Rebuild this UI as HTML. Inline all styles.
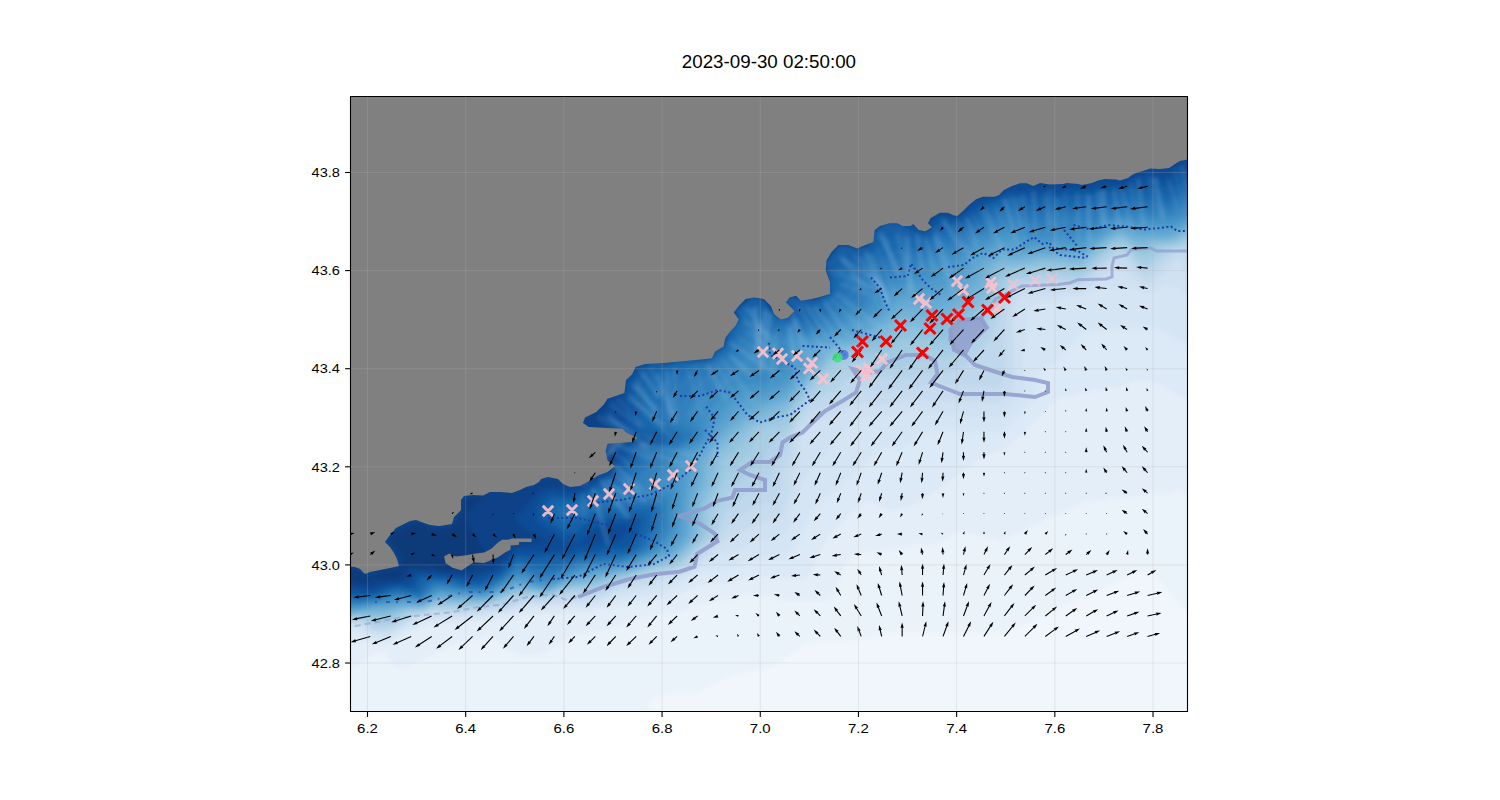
<!DOCTYPE html>
<html><head><meta charset="utf-8"><style>html,body{margin:0;padding:0;background:#fff;width:1500px;height:800px;overflow:hidden}svg{display:block}</style></head>
<body><svg width="1500" height="800" viewBox="0 0 1500 800">
<rect width="1500" height="800" fill="#fff"/>
<defs><filter id="fb" x="-5%" y="-5%" width="110%" height="110%"><feGaussianBlur stdDeviation="2.5"/></filter><filter id="fs" x="-50%" y="-50%" width="200%" height="200%"><feGaussianBlur stdDeviation="2.2"/></filter><clipPath id="ax"><rect x="350.0" y="96.0" width="837.5" height="616.0"/></clipPath></defs>
<g clip-path="url(#ax)"><g filter="url(#fb)"><path fill="#f0f6fc" fill-rule="evenodd" d="M344 90 344 717 1193 717 1193 90Z"/><path fill="#eaf2fa" fill-rule="evenodd" d="M344 90 344 717 674 717 653 711 647 705 653 699 668 693 695 693 725 678 773 666 809 642 854 642 857 639 884 636 887 633 1007 633 1142 570 1151 570 1178 603 1193 615 1193 90Z"/><path fill="#e3eef8" fill-rule="evenodd" d="M344 90 344 666 356 666 374 651 386 651 395 666 407 666 458 642 482 639 485 636 497 639 506 648 521 654 542 654 575 633 605 630 638 618 647 618 662 612 677 612 701 603 740 597 743 594 776 597 779 600 827 600 833 594 845 564 857 552 911 546 914 543 935 543 959 531 1001 540 1085 501 1148 495 1151 492 1172 492 1175 489 1193 495 1193 90Z"/><path fill="#dce9f6" fill-rule="evenodd" d="M344 90 344 642 374 642 383 645 428 624 464 624 467 621 494 621 497 618 515 618 518 615 593 612 596 609 626 606 629 603 650 603 653 600 668 600 698 585 734 582 749 576 803 579 809 576 827 537 854 510 869 501 890 510 917 504 980 459 998 450 1004 450 1061 396 1073 396 1076 393 1088 393 1091 390 1103 390 1106 387 1118 387 1136 381 1154 381 1187 399 1193 399 1193 90Z"/><path fill="#d5e5f4" fill-rule="evenodd" d="M344 633 353 630 374 639 389 639 419 621 485 618 488 615 506 615 524 609 599 606 626 597 662 594 704 570 734 567 755 558 782 558 794 549 815 507 845 483 875 453 887 447 896 447 899 450 926 432 938 432 941 429 956 429 959 432 998 432 1004 429 1034 399 1037 393 1037 375 1058 360 1082 333 1088 330 1157 327 1181 342 1193 345 1193 90 344 90Z"/><path fill="#cfe1f2" fill-rule="evenodd" d="M344 627 359 627 374 636 389 636 419 618 488 615 491 612 506 612 524 606 596 603 617 594 644 591 680 579 716 555 734 552 758 540 782 537 791 522 791 513 803 480 851 423 869 417 905 414 908 411 920 411 923 414 959 414 962 417 998 417 1004 414 1025 390 1022 354 1028 339 1028 309 1034 303 1061 300 1064 297 1082 297 1097 288 1136 288 1145 294 1151 294 1163 285 1175 285 1184 294 1193 297 1193 90 344 90Z"/><path fill="#c8dcef" fill-rule="evenodd" d="M344 627 362 624 374 633 389 633 422 615 464 615 467 612 509 609 524 603 593 600 623 588 647 585 659 579 686 573 725 540 761 522 782 516 791 489 791 474 797 465 800 435 809 423 836 414 851 405 887 405 908 399 998 402 1007 396 1013 387 1013 306 1022 294 1082 291 1115 267 1121 267 1145 285 1151 285 1175 261 1181 261 1190 279 1193 279 1193 90 344 90Z"/><path fill="#bfd8ec" fill-rule="evenodd" d="M344 624 359 621 374 630 389 630 416 615 425 615 428 612 479 612 482 609 497 609 527 600 593 597 632 582 677 573 689 567 719 540 734 519 761 504 773 501 782 489 782 471 791 459 797 426 812 411 830 405 854 390 893 393 896 390 911 390 929 384 995 387 1001 384 1004 378 1007 309 1016 291 1022 288 1043 288 1046 285 1082 285 1115 258 1124 258 1145 279 1154 276 1154 273 1178 252 1181 252 1193 267 1193 90 344 90Z"/><path fill="#b4d3e8" fill-rule="evenodd" d="M344 621 365 621 374 627 389 627 410 615 419 615 434 609 485 609 488 606 500 606 530 597 533 600 545 600 563 594 593 594 623 582 677 570 692 561 716 537 725 513 743 495 770 483 773 465 788 447 791 432 803 411 815 399 836 390 854 375 866 372 881 378 914 378 917 375 947 372 965 366 992 339 1007 294 1016 285 1025 282 1052 282 1055 279 1061 282 1079 282 1118 252 1124 252 1145 273 1175 249 1187 249 1193 255 1193 90 344 90Z"/><path fill="#a8cee4" fill-rule="evenodd" d="M344 621 362 618 374 624 389 624 413 612 425 612 428 609 473 609 515 597 551 597 569 591 593 591 623 579 677 567 713 534 716 513 728 492 764 459 770 444 788 432 800 408 827 381 857 363 881 366 884 369 899 369 914 363 953 357 995 315 1007 285 1016 279 1028 279 1031 276 1073 276 1076 279 1088 273 1115 249 1130 252 1136 261 1145 267 1166 249 1187 243 1193 246 1193 90 344 90Z"/><path fill="#9ecae1" fill-rule="evenodd" d="M344 618 389 621 407 612 419 612 431 606 482 606 518 594 536 594 542 597 572 588 593 588 605 582 614 582 659 567 671 567 683 561 707 537 710 510 728 474 752 450 755 438 767 429 785 426 812 387 839 363 854 357 890 360 908 351 950 348 992 309 998 300 1001 285 1010 276 1034 273 1037 270 1082 273 1097 258 1115 246 1127 246 1139 258 1148 258 1163 246 1175 246 1193 237 1193 90 344 90Z"/><path fill="#90c2de" fill-rule="evenodd" d="M344 618 353 615 389 618 410 609 425 609 434 603 488 603 521 591 551 594 563 588 593 585 677 561 686 555 704 534 704 510 719 483 722 462 740 447 758 426 785 417 812 381 833 360 854 351 884 351 902 339 944 339 953 336 992 300 998 279 1010 270 1025 270 1028 267 1070 267 1076 270 1088 264 1112 243 1127 243 1139 252 1148 252 1154 246 1178 243 1193 234 1193 90 344 90Z"/><path fill="#82badb" fill-rule="evenodd" d="M344 615 386 615 404 609 422 609 440 600 449 603 482 603 512 591 536 591 545 594 557 588 596 582 677 558 698 537 701 504 713 480 716 456 749 426 785 411 833 354 857 345 878 342 902 327 938 330 959 321 989 294 995 273 1004 267 1037 264 1040 261 1082 264 1094 252 1121 237 1136 246 1148 246 1151 243 1178 240 1193 228 1193 90 344 90Z"/><path fill="#73b2d7" fill-rule="evenodd" d="M344 615 353 615 356 612 386 612 404 606 425 606 434 600 488 600 515 588 551 591 572 582 584 582 587 579 599 579 602 576 635 570 677 555 695 534 698 495 704 486 707 465 713 450 749 420 788 402 833 348 860 342 884 330 899 318 944 318 956 312 986 285 989 270 1001 261 1031 261 1034 258 1067 258 1070 261 1079 261 1106 240 1121 234 1139 243 1145 243 1148 240 1169 240 1187 231 1193 225 1193 90 344 90Z"/><path fill="#66aad4" fill-rule="evenodd" d="M344 615 365 609 422 606 437 597 482 600 518 585 545 591 566 582 629 570 656 558 671 555 683 546 689 537 692 501 701 477 701 462 722 435 740 420 767 405 785 399 803 381 824 348 848 342 878 327 902 309 938 309 959 300 980 279 983 267 1001 255 1010 258 1022 258 1025 255 1082 255 1118 231 1124 231 1133 237 1172 237 1193 222 1193 90 344 90Z"/><path fill="#5ca3d0" fill-rule="evenodd" d="M344 612 371 609 374 606 395 606 398 603 425 603 440 594 488 597 518 582 533 588 551 588 578 576 593 576 596 573 632 567 671 552 686 534 689 489 692 486 698 456 716 435 746 408 752 408 785 393 806 372 812 360 812 351 818 345 845 339 875 324 893 306 905 300 935 300 956 291 971 276 974 267 983 258 1001 249 1007 252 1079 252 1118 228 1136 234 1166 234 1169 231 1178 231 1193 219 1193 90 344 90Z"/><path fill="#509bcb" fill-rule="evenodd" d="M344 609 362 609 365 606 401 603 404 600 407 603 422 603 443 591 446 594 482 597 512 582 527 582 542 588 581 573 626 567 659 552 665 552 680 537 689 459 710 441 716 426 737 405 749 399 767 396 785 387 803 369 806 348 809 345 848 333 857 324 875 318 902 294 932 291 947 285 962 273 977 255 1001 243 1022 249 1031 249 1034 246 1082 246 1118 225 1148 231 1151 228 1178 228 1193 216 1193 90 344 90Z"/><path fill="#4594c7" fill-rule="evenodd" d="M344 609 389 603 392 600 413 600 419 603 437 591 488 594 515 579 527 579 536 585 548 585 584 570 617 567 659 552 677 531 677 510 680 507 677 474 683 456 707 438 713 420 728 402 743 393 767 390 788 378 797 369 797 351 803 342 839 333 851 321 872 315 890 294 908 285 929 282 941 276 971 252 1001 237 1019 243 1079 243 1118 222 1127 222 1130 225 1172 225 1193 213 1193 90 344 90Z"/><path fill="#3b8bc2" fill-rule="evenodd" d="M344 606 362 606 365 603 380 603 398 597 422 600 437 588 482 594 509 582 515 576 527 576 536 582 548 582 584 567 620 564 653 552 662 546 671 531 674 492 665 489 662 480 668 474 674 459 686 447 701 441 704 435 704 417 722 396 740 384 764 384 776 378 785 369 788 351 797 339 827 333 839 327 851 315 866 312 875 300 893 285 920 276 1001 231 1022 237 1079 237 1115 219 1130 219 1133 222 1175 219 1193 210 1193 90 344 90Z"/><path fill="#3181bd" fill-rule="evenodd" d="M344 606 371 603 389 597 413 597 419 600 434 588 488 591 515 573 527 573 536 579 548 579 575 567 626 561 653 549 665 534 668 525 668 498 650 492 647 483 680 447 698 438 698 429 686 417 692 405 716 387 725 375 752 351 758 351 788 336 800 336 830 327 848 309 860 309 881 285 953 249 959 249 1001 225 1022 231 1088 228 1115 216 1169 216 1187 207 1193 207 1193 90 344 90Z"/><path fill="#2979b9" fill-rule="evenodd" d="M344 603 362 603 365 600 377 600 395 594 422 597 434 585 452 585 455 588 482 591 497 585 518 567 539 576 548 576 578 564 617 561 644 552 662 528 665 504 656 498 635 495 632 489 641 474 656 459 692 438 692 432 674 420 674 411 698 381 731 360 752 339 821 327 845 303 854 303 869 282 905 264 920 261 944 246 962 243 1001 219 1037 225 1058 219 1094 219 1112 213 1175 210 1193 201 1193 90 344 90Z"/><path fill="#2070b4" fill-rule="evenodd" d="M344 600 371 600 401 591 419 597 434 582 446 582 464 588 485 588 503 579 518 564 533 570 557 570 578 561 620 558 638 552 647 546 656 528 659 507 647 501 608 504 605 498 611 492 626 486 632 474 650 456 683 438 683 435 668 426 659 414 677 384 686 375 722 360 749 330 779 330 782 327 809 327 818 324 866 273 872 273 908 255 926 252 941 240 956 240 1001 213 1034 219 1052 213 1079 213 1082 210 1109 210 1112 207 1166 207 1193 195 1193 90 344 90Z"/><path fill="#1967ad" fill-rule="evenodd" d="M344 597 362 600 392 591 419 594 422 588 434 579 437 582 455 582 458 585 479 588 503 576 518 561 536 567 554 567 578 558 623 555 638 549 653 525 653 510 647 507 596 510 569 519 560 519 557 510 584 501 611 486 617 486 626 477 629 468 644 453 656 450 674 438 674 435 650 420 653 393 668 375 686 366 713 360 728 348 743 321 773 321 776 324 782 321 812 321 854 270 872 264 896 249 917 249 926 246 941 234 959 234 995 210 1013 207 1016 210 1046 210 1049 207 1082 207 1085 204 1112 204 1115 201 1169 201 1187 192 1193 192 1193 90 344 90Z"/><path fill="#125ea6" fill-rule="evenodd" d="M344 594 350 597 368 597 395 588 419 591 419 585 425 579 449 579 467 585 482 585 500 576 518 558 527 561 566 561 578 555 602 555 605 552 626 552 632 549 647 525 647 516 644 513 593 516 590 519 581 519 566 528 554 522 548 516 548 510 557 501 572 501 590 495 596 489 617 480 626 465 644 447 659 444 665 438 659 432 647 429 641 420 644 387 656 372 680 360 707 360 713 357 713 354 725 345 728 333 740 318 737 312 743 306 767 309 779 318 806 315 821 297 830 294 830 282 842 267 857 258 872 255 887 237 926 240 944 228 962 228 986 210 1010 201 1016 204 1046 204 1049 201 1088 201 1091 198 1121 198 1124 195 1169 195 1187 186 1193 186 1193 90 344 90Z"/><path fill="#0b559f" fill-rule="evenodd" d="M344 591 350 594 374 594 401 585 404 588 416 588 416 582 422 576 479 582 500 573 518 555 542 558 545 555 575 555 578 552 599 552 602 549 623 549 629 546 638 534 641 519 602 519 584 525 575 534 566 534 542 519 542 507 551 498 572 498 614 477 626 456 647 438 635 426 635 387 638 378 653 363 707 360 713 357 713 354 725 345 728 333 740 318 734 312 752 297 764 300 773 315 788 318 794 312 785 303 788 297 815 300 830 294 830 279 827 276 827 261 839 246 851 246 854 249 869 246 875 231 887 222 899 222 911 231 923 234 941 222 956 225 977 213 986 204 1004 198 1046 198 1049 195 1061 198 1064 195 1094 195 1097 192 1124 192 1127 189 1160 189 1163 186 1175 186 1184 180 1193 180 1193 90 344 90Z"/><path fill="#084c96" fill-rule="evenodd" d="M344 588 374 591 389 585 410 585 419 573 476 579 500 570 503 564 518 552 566 552 581 546 617 543 629 531 629 525 599 525 578 543 569 543 536 522 536 507 545 495 554 492 563 495 581 492 614 471 626 447 638 438 623 429 611 429 608 423 611 420 626 423 626 384 641 363 674 363 677 360 707 360 713 357 713 354 725 345 728 333 740 318 734 312 752 297 764 300 773 315 788 318 794 312 785 303 788 297 815 300 830 294 830 279 827 276 827 261 839 246 851 246 854 249 869 246 875 231 887 222 914 225 920 231 929 231 932 228 929 225 932 219 938 216 956 219 989 198 998 198 1007 192 1043 192 1046 189 1052 192 1067 192 1070 189 1094 189 1097 186 1127 186 1148 180 1166 180 1184 171 1193 171 1193 90 344 90Z"/><path fill="#084388" fill-rule="evenodd" d="M344 582 353 588 374 588 377 585 404 582 413 570 470 576 473 573 494 570 518 546 545 543 545 540 524 528 515 519 539 492 545 489 578 489 605 474 614 465 611 462 614 456 611 447 638 438 623 429 608 429 602 426 599 417 611 405 611 399 623 393 626 381 641 363 674 363 677 360 707 360 713 357 713 354 725 345 728 333 740 318 734 312 752 297 764 300 773 315 788 318 794 312 785 303 788 297 815 300 830 294 830 279 827 276 827 261 839 246 851 246 854 249 869 246 875 231 887 222 914 225 920 231 929 231 932 228 929 222 941 213 956 216 962 213 971 201 977 198 995 198 1004 189 1019 183 1031 183 1034 186 1040 183 1046 186 1079 183 1085 186 1097 180 1124 180 1151 168 1172 168 1187 159 1193 159 1193 90 344 90Z"/><path fill="#083a7a" fill-rule="evenodd" d="M518 492 515 495 464 498 464 510 452 528 431 528 419 522 395 531 389 540 401 558 401 567 398 570 386 570 374 576 365 576 356 570 344 570 344 576 356 582 368 582 371 579 398 579 407 567 434 567 437 570 467 570 485 561 485 552 467 522 467 513 479 501 488 498 512 498Z"/></g><g filter="url(#fs)" stroke="#9ccbe8" stroke-width="4" stroke-linecap="round"><line x1="1182.1" y1="167.3" x2="1191.0" y2="210.1" stroke-opacity="0.17"/><line x1="1175.0" y1="171.1" x2="1185.0" y2="210.1" stroke-opacity="0.11"/><line x1="1168.8" y1="180.5" x2="1177.3" y2="208.6" stroke-opacity="0.14"/><line x1="1155.1" y1="179.1" x2="1162.7" y2="217.2" stroke-opacity="0.30"/><line x1="1149.2" y1="177.6" x2="1154.9" y2="207.1" stroke-opacity="0.12"/><line x1="1138.4" y1="179.9" x2="1143.4" y2="225.0" stroke-opacity="0.23"/><line x1="1130.5" y1="183.4" x2="1135.3" y2="210.0" stroke-opacity="0.14"/><line x1="1121.4" y1="188.6" x2="1132.6" y2="232.6" stroke-opacity="0.19"/><line x1="1114.2" y1="190.8" x2="1118.7" y2="224.1" stroke-opacity="0.21"/><line x1="1103.0" y1="191.4" x2="1105.0" y2="226.4" stroke-opacity="0.30"/><line x1="1097.6" y1="193.3" x2="1101.5" y2="223.3" stroke-opacity="0.20"/><line x1="1088.3" y1="195.9" x2="1089.4" y2="241.0" stroke-opacity="0.28"/><line x1="1077.7" y1="194.7" x2="1078.3" y2="240.0" stroke-opacity="0.19"/><line x1="1065.2" y1="193.2" x2="1063.6" y2="241.4" stroke-opacity="0.11"/><line x1="1057.0" y1="198.2" x2="1055.3" y2="251.9" stroke-opacity="0.16"/><line x1="1050.1" y1="190.7" x2="1048.4" y2="231.8" stroke-opacity="0.13"/><line x1="1044.8" y1="195.5" x2="1049.3" y2="224.6" stroke-opacity="0.15"/><line x1="1033.4" y1="192.5" x2="1035.8" y2="233.2" stroke-opacity="0.21"/><line x1="1023.0" y1="196.1" x2="1026.9" y2="230.7" stroke-opacity="0.18"/><line x1="1017.3" y1="198.3" x2="1020.1" y2="228.4" stroke-opacity="0.14"/><line x1="1011.3" y1="197.2" x2="1025.0" y2="240.8" stroke-opacity="0.15"/><line x1="1004.7" y1="200.5" x2="1017.7" y2="243.4" stroke-opacity="0.29"/><line x1="995.3" y1="206.6" x2="1016.3" y2="250.5" stroke-opacity="0.11"/><line x1="985.3" y1="209.6" x2="1005.1" y2="258.7" stroke-opacity="0.18"/><line x1="980.2" y1="209.9" x2="992.6" y2="234.0" stroke-opacity="0.11"/><line x1="972.3" y1="213.1" x2="982.6" y2="237.9" stroke-opacity="0.10"/><line x1="966.5" y1="219.2" x2="977.1" y2="242.8" stroke-opacity="0.27"/><line x1="957.7" y1="221.7" x2="979.2" y2="252.0" stroke-opacity="0.17"/><line x1="954.0" y1="225.1" x2="973.0" y2="261.7" stroke-opacity="0.20"/><line x1="943.6" y1="220.7" x2="961.8" y2="249.7" stroke-opacity="0.27"/><line x1="935.6" y1="230.7" x2="951.2" y2="271.3" stroke-opacity="0.13"/><line x1="935.0" y1="236.8" x2="953.8" y2="293.0" stroke-opacity="0.27"/><line x1="925.9" y1="239.6" x2="933.9" y2="269.4" stroke-opacity="0.25"/><line x1="917.6" y1="236.3" x2="921.5" y2="268.9" stroke-opacity="0.26"/><line x1="907.8" y1="238.4" x2="910.0" y2="292.0" stroke-opacity="0.25"/><line x1="904.0" y1="234.8" x2="907.5" y2="260.5" stroke-opacity="0.11"/><line x1="897.2" y1="234.4" x2="912.7" y2="290.8" stroke-opacity="0.19"/><line x1="885.1" y1="238.7" x2="895.2" y2="275.1" stroke-opacity="0.14"/><line x1="880.8" y1="234.8" x2="901.0" y2="277.0" stroke-opacity="0.28"/><line x1="877.7" y1="249.6" x2="896.7" y2="299.1" stroke-opacity="0.12"/><line x1="872.4" y1="255.5" x2="888.2" y2="304.2" stroke-opacity="0.20"/><line x1="866.3" y1="254.0" x2="887.0" y2="302.8" stroke-opacity="0.29"/><line x1="860.9" y1="258.3" x2="889.0" y2="300.1" stroke-opacity="0.13"/><line x1="854.6" y1="255.4" x2="887.6" y2="297.1" stroke-opacity="0.13"/><line x1="841.5" y1="257.7" x2="864.1" y2="287.4" stroke-opacity="0.21"/><line x1="843.0" y1="259.7" x2="883.0" y2="285.8" stroke-opacity="0.21"/><line x1="838.0" y1="270.1" x2="886.9" y2="292.9" stroke-opacity="0.14"/><line x1="833.1" y1="272.6" x2="875.3" y2="289.7" stroke-opacity="0.15"/><line x1="841.2" y1="283.7" x2="876.2" y2="297.0" stroke-opacity="0.19"/><line x1="837.4" y1="294.5" x2="882.6" y2="329.4" stroke-opacity="0.20"/><line x1="831.0" y1="299.3" x2="859.9" y2="327.5" stroke-opacity="0.14"/><line x1="825.2" y1="302.7" x2="848.4" y2="337.1" stroke-opacity="0.25"/><line x1="815.2" y1="307.5" x2="841.8" y2="343.1" stroke-opacity="0.26"/><line x1="807.3" y1="307.1" x2="826.5" y2="336.0" stroke-opacity="0.25"/><line x1="799.5" y1="306.9" x2="826.8" y2="356.9" stroke-opacity="0.19"/><line x1="790.7" y1="311.0" x2="811.0" y2="355.8" stroke-opacity="0.19"/><line x1="794.9" y1="321.0" x2="807.7" y2="368.8" stroke-opacity="0.28"/><line x1="790.8" y1="326.4" x2="798.2" y2="383.9" stroke-opacity="0.27"/><line x1="787.7" y1="327.5" x2="792.3" y2="354.7" stroke-opacity="0.15"/><line x1="777.0" y1="329.6" x2="770.9" y2="385.6" stroke-opacity="0.13"/><line x1="770.2" y1="314.1" x2="760.9" y2="369.2" stroke-opacity="0.29"/><line x1="765.5" y1="311.5" x2="756.0" y2="352.5" stroke-opacity="0.30"/><line x1="756.7" y1="307.2" x2="758.2" y2="350.3" stroke-opacity="0.17"/><line x1="753.4" y1="309.5" x2="758.0" y2="334.8" stroke-opacity="0.21"/><line x1="747.4" y1="309.3" x2="774.8" y2="347.3" stroke-opacity="0.20"/><line x1="744.4" y1="317.6" x2="776.2" y2="367.3" stroke-opacity="0.12"/><line x1="746.4" y1="321.6" x2="776.1" y2="339.1" stroke-opacity="0.13"/><line x1="746.5" y1="331.5" x2="773.5" y2="352.2" stroke-opacity="0.13"/><line x1="739.0" y1="339.0" x2="763.1" y2="353.4" stroke-opacity="0.11"/><line x1="730.5" y1="343.1" x2="778.6" y2="375.2" stroke-opacity="0.23"/><line x1="730.9" y1="356.4" x2="751.0" y2="374.9" stroke-opacity="0.27"/><line x1="721.8" y1="359.5" x2="756.7" y2="405.1" stroke-opacity="0.15"/><line x1="716.1" y1="364.3" x2="730.6" y2="389.2" stroke-opacity="0.13"/><line x1="708.2" y1="366.5" x2="725.1" y2="397.9" stroke-opacity="0.25"/><line x1="695.6" y1="367.3" x2="704.9" y2="403.3" stroke-opacity="0.10"/><line x1="688.6" y1="372.3" x2="702.0" y2="414.5" stroke-opacity="0.14"/><line x1="674.8" y1="368.8" x2="674.6" y2="422.5" stroke-opacity="0.19"/><line x1="666.5" y1="371.9" x2="670.4" y2="414.5" stroke-opacity="0.24"/><line x1="658.0" y1="375.5" x2="674.4" y2="422.4" stroke-opacity="0.23"/><line x1="651.0" y1="369.7" x2="663.4" y2="396.5" stroke-opacity="0.11"/><line x1="641.8" y1="372.3" x2="658.0" y2="395.1" stroke-opacity="0.27"/><line x1="636.6" y1="380.9" x2="654.2" y2="409.4" stroke-opacity="0.16"/><line x1="634.0" y1="385.6" x2="656.6" y2="411.3" stroke-opacity="0.29"/><line x1="630.4" y1="395.5" x2="671.4" y2="437.5" stroke-opacity="0.16"/><line x1="629.7" y1="399.0" x2="663.2" y2="423.8" stroke-opacity="0.20"/><line x1="619.0" y1="400.6" x2="643.0" y2="425.1" stroke-opacity="0.12"/><line x1="611.1" y1="404.5" x2="639.4" y2="426.1" stroke-opacity="0.15"/><line x1="609.0" y1="416.1" x2="646.0" y2="446.7" stroke-opacity="0.24"/><line x1="599.0" y1="417.8" x2="654.1" y2="440.2" stroke-opacity="0.13"/><line x1="578.2" y1="418.9" x2="523.9" y2="419.5" stroke-opacity="0.28"/><line x1="575.3" y1="431.2" x2="548.9" y2="445.3" stroke-opacity="0.20"/><line x1="585.1" y1="436.0" x2="546.7" y2="473.9" stroke-opacity="0.22"/><line x1="599.8" y1="438.0" x2="584.2" y2="467.1" stroke-opacity="0.11"/><line x1="606.9" y1="434.3" x2="584.6" y2="483.8" stroke-opacity="0.21"/><line x1="616.5" y1="438.9" x2="597.2" y2="476.4" stroke-opacity="0.10"/><line x1="622.2" y1="440.8" x2="589.3" y2="469.6" stroke-opacity="0.23"/><line x1="626.3" y1="438.8" x2="600.2" y2="447.7" stroke-opacity="0.15"/><line x1="641.5" y1="444.5" x2="699.5" y2="456.4" stroke-opacity="0.20"/><line x1="633.8" y1="446.5" x2="682.6" y2="463.7" stroke-opacity="0.22"/><line x1="619.1" y1="446.0" x2="650.6" y2="458.4" stroke-opacity="0.25"/><line x1="611.6" y1="449.7" x2="632.1" y2="467.5" stroke-opacity="0.15"/><line x1="614.6" y1="464.9" x2="638.9" y2="490.4" stroke-opacity="0.20"/><line x1="615.9" y1="467.3" x2="659.3" y2="503.1" stroke-opacity="0.14"/><line x1="614.5" y1="474.2" x2="645.2" y2="501.5" stroke-opacity="0.26"/><line x1="607.9" y1="479.7" x2="631.2" y2="502.1" stroke-opacity="0.29"/><line x1="602.0" y1="481.5" x2="627.4" y2="516.6" stroke-opacity="0.29"/><line x1="593.2" y1="489.9" x2="607.9" y2="543.9" stroke-opacity="0.24"/><line x1="582.7" y1="494.7" x2="584.1" y2="520.5" stroke-opacity="0.10"/></g><polygon points="345,91 1192.5,91 1187.5,159.5 1180,161 1175,164 1169,168 1160,169 1150,168.5 1146,170 1136,173 1132,175 1128,178 1120,180.5 1116,179.5 1105,179 1098,180.5 1092,183 1082,185 1078,184 1067,183 1063,184 1050,184.5 1040,183 1033.3,186 1026.7,183.3 1020,183.3 1012,186 1004,190 998.7,195.3 994.7,196.7 982.7,196.7 976,199.3 969.3,204.7 964,210 957.3,216 953.3,215.3 948,212.7 940,212.7 930.7,218 928,223.3 932,227.3 925.3,231.3 918.7,230 913.3,224 910.7,226 902.7,226 897.3,223.3 889.3,223.3 880,226 874.7,230 873.3,242 865.4,245 857,248.5 848.5,245 838.4,245 831.6,251.9 826.6,260.3 825.7,270.4 830,282.2 830,294 818,297.4 811.4,299 801,300.8 796,295.8 789.4,297.4 786,302.5 794.5,311 787.8,317.7 781,319.4 774.2,314.3 770.9,305.9 764,299 754,297.4 745.6,299 738.8,305.9 733.8,312.6 738.8,319.4 735.4,326 730.4,331.2 725.3,338 723.6,346.4 715.2,351.4 711.8,358.2 701,359.4 682.5,361.2 663.8,363 645,364 635.6,367 632,374.4 626,380 624.4,393 607.5,398.8 603.8,404.4 596.2,412 585,417.5 583,423 588.8,427 622.5,428.8 626.2,432.5 637.5,438 632,442 607.5,443.8 605.6,451.2 607.5,460.6 615,466.2 607.5,472 598,475.6 588.8,481.2 580,486 570,487 563,484 558,479 548,477 541,479 539,482 534,485 526,487 520,490 512,493 500,492 490,492 483,495.5 473,495 464,496 461,500 461,510 454,517 452,524 440,526 438,526 430,525 424,523 416,520 410,521 404,524 396,528 390,535 385,542 390,547 394,553 397,559 399,566 390,568 380,570 370,572 365,574 360,569 355,567 345,566" fill="#808080"/><polygon points="444.1,556.6 449,553.8 456,556.6 466.5,555.2 474.2,553.8 484,552.4 491,548.9 498,542.6 502.2,539.8 508.5,539.8 512,538.4 531.6,538.4 531.6,541.9 519,541.9 519,544.7 510.6,545.4 510.6,549.6 505,552.4 498,557.3 487.5,561.5 484,562.9 473.5,562.2 466.5,567 461.6,570.6 452.5,567.8 445.5,562.9" fill="#808080"/><polyline points="578,597 603.4,587 628.7,579.3 654,574.3 679.4,571.7 694.6,566.7 697,554 717.4,541.3 714.8,533.7 699.6,523.6 679.4,516 704.7,508.4 717.4,500.8 732.5,497.5 735,490 765,490 765,480 750,475 740,470 752,462 770,462 780,455 782.5,442.5 790,437.5 802.5,432.5 810,425 825,411 844,400 856,392.5 860,380 852.5,369 866,373 880,371 887.5,362.5 906,355 925,355 935,361 937.5,374 931,382.5 937,385 960,394 983,394 1005,394 1035,397 1048,392 1048,383 1035,380 1012,377 993,371 975,365 966,356 954,350 950,330 960,320 981,318 988,329" fill="none" stroke="#8e9bcb" stroke-width="4" stroke-opacity="0.85" stroke-linejoin="miter"/><polyline points="981,318 996,299 1022,286 1058,284.6 1070,283 1078,279.7 1106,279 1112,277 1112,266 1114,258 1127,255 1131,249.6 1151,248 1156,251 1190,251" fill="none" stroke="#8e9bcb" stroke-width="3" stroke-opacity="0.7" stroke-linejoin="miter"/><polyline points="345,628 375,622.4 400.7,617.3 426,614.8 451.3,612.3 476.7,607.2 502,604.7 527.4,597 552.7,594.5 565.4,599.6 578,597 603.4,587" fill="none" stroke="#8e9bcb" stroke-width="2" stroke-opacity="0.55" stroke-dasharray="6 4"/><polygon points="950,330 960,320 981,318 988,329 972,345 966,356 954,350 948,340" fill="#8e9bcb" fill-opacity="0.8"/><polyline points="375,602 426,602 464,592 502,592 527,582 553,579" fill="none" stroke="#1b3ea8" stroke-width="2" stroke-opacity="0.6" stroke-dasharray="2 9 4 6"/><polyline points="553,579 578,577 603,564 629,567 654,564 669,556 667,549 654,541 629,531 616,526 603,524 578,518 548,518" fill="none" stroke="#1b3ea8" stroke-width="2" stroke-dasharray="2 2.5"/><polyline points="593,503 620,500 650,495 674,483 690,470 700,455 705,445 711,435 714.7,418 705,405" fill="none" stroke="#1b3ea8" stroke-width="2" stroke-dasharray="2 2.5"/><polyline points="680,396 700,396 717.5,390 730,392.5 740,405 747.5,415 760,422.5 775,417.5 790,415 800,407.5 810,400 805,390 797.5,380 795,367.5 770,355 768.8,342.5" fill="none" stroke="#1b3ea8" stroke-width="2" stroke-dasharray="2 2.5"/><polyline points="802.5,346 830,347.5" fill="none" stroke="#1b3ea8" stroke-width="2" stroke-dasharray="2 2.5"/><polyline points="830,337 845,355" fill="none" stroke="#1b3ea8" stroke-width="2" stroke-dasharray="2 2.5"/><polyline points="852,330 880,337.5" fill="none" stroke="#1b3ea8" stroke-width="2" stroke-dasharray="2 2.5"/><polyline points="705,430 717.5,442.5 717.5,457" fill="none" stroke="#1b3ea8" stroke-width="2" stroke-dasharray="2 2.5"/><polyline points="871,277.5 880,288 885,302 890,312.5" fill="none" stroke="#1b3ea8" stroke-width="2" stroke-dasharray="2 2.5"/><polyline points="890,277.5 907.8,276 911,263.5 923.5,281 930.5,288 941,295" fill="none" stroke="#1b3ea8" stroke-width="2" stroke-dasharray="2 2.5"/><polyline points="948,267 963.8,265 972.5,258 983,253 993.5,258 1002,249.5 1014.5,249.5 1025,242.5 1034,237 1042.5,244 1049.5,242.5 1053,248 1069.6,249.6 1078,251 1087.8,256.6" fill="none" stroke="#1b3ea8" stroke-width="2" stroke-dasharray="2 2.5"/><polyline points="1064,230 1078,247" fill="none" stroke="#1b3ea8" stroke-width="2" stroke-dasharray="2 2.5"/><polyline points="1073.5,225 1090,229.5 1108,225 1126,226.5 1144,229.5 1159,228 1171,226.5 1177,231 1190,231" fill="none" stroke="#1b3ea8" stroke-width="2" stroke-dasharray="2 2.5"/><polyline points="1049,247 1060,255 1087,258" fill="none" stroke="#1b3ea8" stroke-width="2" stroke-dasharray="2 2.5"/><path d="M542.8 505.8L553.2 516.2M542.8 516.2L553.2 505.8M566.8 504.8L577.2 515.2M566.8 515.2L577.2 504.8M587.8 495.8L598.2 506.2M587.8 506.2L598.2 495.8M603.8 488.8L614.2 499.2M603.8 499.2L614.2 488.8M623.8 483.8L634.2 494.2M623.8 494.2L634.2 483.8M649.8 478.8L660.2 489.2M649.8 489.2L660.2 478.8M667.8 469.8L678.2 480.2M667.8 480.2L678.2 469.8M685.8 460.8L696.2 471.2M685.8 471.2L696.2 460.8M757.8 346.8L768.2 357.2M757.8 357.2L768.2 346.8M772.8 348.3L783.2 358.7M772.8 358.7L783.2 348.3M776.8 353.8L787.2 364.2M776.8 364.2L787.2 353.8M791.8 350.8L802.2 361.2M791.8 361.2L802.2 350.8M806.8 357.8L817.2 368.2M806.8 368.2L817.2 357.8M803.8 363.3L814.2 373.7M803.8 373.7L814.2 363.3M817.8 373.8L828.2 384.2M817.8 384.2L828.2 373.8M856.8 365.3L867.2 375.7M856.8 375.7L867.2 365.3M863.8 363.3L874.2 373.7M863.8 373.7L874.2 363.3M860.8 370.8L871.2 381.2M860.8 381.2L871.2 370.8M876.8 353.8L887.2 364.2M876.8 364.2L887.2 353.8M913.8 293.8L924.2 304.2M913.8 304.2L924.2 293.8M920.8 297.8L931.2 308.2M920.8 308.2L931.2 297.8M951.8 275.8L962.2 286.2M951.8 286.2L962.2 275.8M957.8 284.8L968.2 295.2M957.8 295.2L968.2 284.8M985.3 277.3L995.7 287.7M985.3 287.7L995.7 277.3M986.8 282.8L997.2 293.2M986.8 293.2L997.2 282.8M991.8 303.3L1002.2 313.7M991.8 313.7L1002.2 303.3" stroke="#ffc0cb" stroke-width="3" fill="none" stroke-opacity="0.92"/><path d="M1007.8 279.3L1018.2 289.7M1007.8 289.7L1018.2 279.3M1029.8 275.3L1040.2 285.7M1029.8 285.7L1040.2 275.3M1046.8 273.3L1057.2 283.7M1046.8 283.7L1057.2 273.3" stroke="#ffc0cb" stroke-width="3" fill="none" stroke-opacity="0.6"/><path fill="#000" d="M349.9 534.6 350.4 534.5 350.1 535.6 354.8 533.1 349.5 532.6 350.2 533.5 349.7 533.6ZM350.0 555.0 350.4 554.8 350.4 555.8 353.8 552.6 349.2 553.4 350.0 554.0 349.6 554.2ZM349.8 595.0 337.7 596.4 338.1 595.2 332.8 597.5 338.5 598.5 337.8 597.5 349.9 596.0ZM349.8 615.4 336.6 617.6 337.0 616.4 331.8 619.0 337.5 619.7 336.8 618.7 349.9 616.5ZM349.7 635.9 335.0 639.7 335.3 638.5 330.3 641.4 336.1 641.7 335.3 640.7 350.0 637.0ZM370.5 534.6 371.0 534.4 370.9 535.6 375.3 532.1 369.7 532.6 370.6 533.4 370.1 533.6ZM370.6 555.0 371.8 554.1 372.0 555.3 375.3 550.6 370.0 552.7 371.1 553.2 370.0 554.2ZM370.2 595.0 358.2 596.4 358.6 595.2 353.3 597.5 359.0 598.5 358.3 597.5 370.4 596.0ZM370.2 615.4 356.6 618.1 357.0 617.0 351.9 619.7 357.6 620.2 356.9 619.2 370.4 616.5ZM370.1 635.9 355.2 640.3 355.4 639.1 350.6 642.2 356.3 642.2 355.5 641.3 370.5 636.9ZM391.0 534.5 391.4 534.3 391.4 535.3 394.8 532.1 390.2 532.9 391.0 533.5 390.6 533.7ZM390.7 595.0 379.6 596.3 380.0 595.2 374.8 597.5 380.4 598.5 379.7 597.4 390.8 596.0ZM390.6 615.4 375.4 619.2 375.7 618.0 370.8 621.0 376.5 621.2 375.7 620.3 390.9 616.5ZM390.5 635.9 376.1 641.9 376.2 640.7 371.8 644.3 377.5 643.7 376.5 642.9 391.0 636.9ZM411.3 534.6 411.8 534.5 411.5 535.6 416.2 533.1 410.9 532.6 411.6 533.5 411.1 533.6ZM411.4 555.0 411.8 554.8 411.8 555.8 415.2 552.6 410.6 553.4 411.4 554.0 411.0 554.2ZM411.1 574.5 410.6 574.7 410.8 573.5 406.2 576.5 411.7 576.5 410.9 575.7 411.4 575.5ZM411.1 595.0 398.6 598.2 398.8 597.0 393.9 600.0 399.6 600.2 398.8 599.3 411.3 596.0ZM411.0 615.4 395.8 620.2 396.0 619.0 391.2 622.3 397.0 622.2 396.1 621.3 411.4 616.5ZM411.0 635.9 396.9 642.3 396.9 641.1 392.6 644.8 398.3 644.1 397.3 643.3 411.4 636.9ZM431.5 534.6 432.0 534.8 431.1 535.6 436.7 536.1 432.3 532.6 432.4 533.8 431.9 533.6ZM431.5 555.0 431.9 555.2 431.1 555.8 435.7 556.6 432.3 553.4 432.3 554.4 431.9 554.2ZM431.3 574.7 429.6 576.5 429.1 575.4 426.7 580.5 431.6 577.6 430.4 577.2 432.1 575.4ZM431.4 595.0 420.4 600.0 420.5 598.7 416.2 602.5 421.9 601.7 420.9 601.0 431.9 596.0ZM431.4 615.5 416.5 622.4 416.6 621.1 412.3 625.0 417.9 624.1 417.0 623.4 431.9 616.5ZM431.4 636.0 418.7 644.2 418.6 643.0 414.9 647.4 420.4 645.8 419.3 645.2 432.0 636.9ZM452.3 513.9 452.5 513.7 452.7 514.3 454.1 511.7 451.5 513.1 452.1 513.3 451.9 513.5ZM451.8 534.6 452.6 535.0 451.6 535.7 457.1 537.1 453.3 532.9 453.2 534.1 452.4 533.6ZM451.7 554.7 451.8 555.1 450.8 554.9 453.1 559.1 453.5 554.3 452.7 554.9 452.6 554.5ZM451.6 574.8 448.6 580.0 447.9 579.0 446.6 584.5 450.8 580.6 449.6 580.5 452.6 575.3ZM451.8 595.0 441.2 602.0 441.1 600.8 437.4 605.2 442.9 603.5 441.9 602.9 452.4 596.0ZM451.8 615.5 437.4 624.4 437.3 623.2 433.5 627.5 439.1 626.0 438.0 625.3 452.4 616.4ZM451.8 636.0 439.7 645.3 439.5 644.1 436.1 648.7 441.5 646.7 440.4 646.1 452.5 636.9ZM472.5 492.9 472.2 493.0 472.3 492.3 469.6 494.2 472.9 494.1 472.4 493.6 472.7 493.5ZM472.2 534.5 472.6 534.9 471.5 535.3 476.6 537.6 473.6 532.9 473.3 534.1 472.9 533.7ZM472.0 554.7 472.7 558.5 471.5 558.1 474.1 563.3 474.8 557.6 473.8 558.3 473.1 554.5ZM472.1 574.8 468.1 582.4 467.4 581.4 466.3 587.0 470.3 582.9 469.1 582.9 473.1 575.3ZM472.2 595.1 460.4 605.4 460.1 604.2 457.1 609.1 462.3 606.7 461.2 606.2 472.9 595.9ZM472.2 615.5 458.1 626.5 457.9 625.3 454.6 630.0 459.9 627.9 458.8 627.4 472.9 616.4ZM472.2 636.0 461.6 646.2 461.2 645.0 458.4 650.0 463.5 647.4 462.3 647.0 473.0 636.8ZM492.8 513.7 492.8 513.9 492.4 513.7 493.0 515.7 493.6 513.7 493.2 513.9 493.2 513.7ZM492.7 534.5 493.1 534.9 492.0 535.3 497.0 537.6 494.1 532.9 493.8 534.1 493.4 533.7ZM492.5 554.6 492.7 559.4 491.6 558.9 493.5 564.3 494.9 558.7 493.8 559.3 493.6 554.6ZM492.5 574.8 486.4 586.4 485.7 585.4 484.6 591.0 488.6 586.9 487.4 586.9 493.5 575.3ZM492.6 595.1 479.8 607.9 479.5 606.7 476.7 611.8 481.8 609.1 480.6 608.7 493.4 595.9ZM492.7 615.6 479.9 627.7 479.6 626.5 476.7 631.5 481.9 628.9 480.7 628.4 493.4 616.4ZM492.6 636.1 483.6 646.0 483.2 644.8 480.7 650.0 485.6 647.0 484.5 646.7 493.4 636.8ZM514.0 513.7 513.8 514.1 513.2 514.1 512.9 513.7 513.2 513.2 513.8 513.2ZM513.0 534.3 513.2 534.8 512.1 534.7 515.5 538.6 514.8 533.5 514.1 534.4 513.9 533.9ZM513.0 554.4 509.5 563.7 508.7 562.8 508.3 568.6 511.7 564.0 510.5 564.1 514.0 554.8ZM513.0 574.7 502.9 589.3 502.3 588.2 500.5 593.6 505.0 590.1 503.8 589.9 513.9 575.4ZM513.1 595.1 500.7 609.0 500.2 607.9 497.8 613.1 502.7 610.1 501.5 609.8 513.9 595.9ZM513.1 615.6 502.1 627.5 501.6 626.3 499.1 631.5 504.0 628.6 502.9 628.2 513.9 616.3ZM513.1 636.1 505.8 644.6 505.3 643.5 503.0 648.7 507.8 645.6 506.6 645.3 513.9 636.8ZM533.9 493.0 533.7 493.1 533.8 492.6 531.9 493.7 534.1 493.8 533.8 493.5 534.0 493.4ZM533.7 513.6 533.6 513.8 533.3 513.4 532.9 515.7 534.5 514.0 534.0 514.0 534.1 513.8ZM533.4 534.3 533.6 534.8 532.4 534.7 535.9 539.1 535.4 533.5 534.6 534.4 534.4 533.9ZM533.5 554.3 523.6 569.2 523.0 568.1 521.3 573.6 525.8 569.9 524.5 569.8 534.4 554.9ZM533.5 574.7 521.2 592.0 520.6 590.9 518.7 596.3 523.3 592.8 522.1 592.6 534.4 575.4ZM533.5 595.1 521.6 609.0 521.1 607.9 518.7 613.1 523.6 610.0 522.4 609.7 534.4 595.9ZM533.5 615.6 526.5 624.6 526.0 623.5 523.9 628.9 528.6 625.5 527.4 625.3 534.4 616.3ZM533.5 636.1 529.2 641.8 528.6 640.7 526.6 646.1 531.3 642.7 530.1 642.5 534.4 636.8ZM553.9 513.5 551.7 518.9 550.9 517.9 550.4 523.7 554.0 519.2 552.7 519.3 554.9 513.9ZM553.9 533.9 546.2 548.5 545.5 547.5 544.4 553.1 548.4 549.0 547.2 549.0 554.9 534.4ZM553.9 554.3 541.6 574.1 540.9 573.0 539.4 578.6 543.7 574.8 542.5 574.7 554.9 554.9ZM553.9 574.7 541.7 593.2 541.1 592.1 539.4 597.6 543.8 594.0 542.6 593.8 554.9 575.3ZM554.0 595.1 543.7 606.5 543.3 605.3 540.8 610.5 545.7 607.5 544.5 607.2 554.8 595.9ZM553.9 615.6 549.7 621.8 549.1 620.7 547.4 626.2 551.9 622.6 550.6 622.4 554.8 616.3ZM553.9 636.1 551.0 640.4 550.4 639.4 548.6 644.8 553.1 641.2 551.9 641.1 554.8 636.7ZM575.4 472.7 575.1 473.2 574.6 473.2 574.3 472.7 574.6 472.3 575.1 472.3ZM574.3 493.1 573.6 498.2 572.6 497.5 573.6 503.2 575.9 498.0 574.7 498.4 575.4 493.3ZM574.4 513.4 568.7 524.5 568.0 523.5 567.0 529.2 570.9 525.0 569.7 525.0 575.3 513.9ZM574.4 533.9 563.6 555.0 562.9 554.0 561.9 559.6 565.8 555.5 564.6 555.5 575.3 534.4ZM574.4 554.3 562.5 574.4 561.8 573.4 560.5 579.0 564.7 575.1 563.4 575.0 575.3 554.9ZM574.4 574.7 561.8 590.8 561.2 589.7 559.1 595.0 563.8 591.7 562.6 591.5 575.3 575.4ZM574.4 595.1 565.9 605.0 565.4 603.9 563.1 609.1 567.9 606.0 566.7 605.7 575.3 595.9ZM574.4 615.6 569.8 620.8 569.4 619.7 567.0 624.9 571.8 621.8 570.6 621.5 575.3 616.3ZM574.4 636.0 571.2 639.4 570.8 638.3 568.2 643.4 573.2 640.6 572.0 640.2 575.3 636.8ZM594.9 451.9 592.0 454.5 591.7 453.4 588.7 458.3 593.9 455.8 592.7 455.4 595.7 452.7ZM594.8 472.4 591.6 477.3 591.0 476.2 589.3 481.7 593.7 478.1 592.5 477.9 595.8 473.0ZM594.8 493.0 590.6 504.8 589.8 504.0 589.5 509.7 592.9 505.1 591.7 505.2 595.8 493.4ZM594.8 513.5 588.2 530.8 587.3 529.9 586.9 535.7 590.4 531.1 589.2 531.2 595.8 513.9ZM594.8 533.9 585.7 556.1 584.9 555.2 584.3 560.9 587.9 556.5 586.7 556.5 595.8 534.3ZM594.8 554.3 584.7 574.3 584.0 573.3 583.0 579.0 587.0 574.8 585.7 574.8 595.8 554.8ZM594.8 574.7 585.3 589.2 584.7 588.1 583.0 593.6 587.4 590.0 586.2 589.8 595.8 575.3ZM594.9 595.2 588.2 603.6 587.7 602.5 585.6 607.8 590.3 604.5 589.1 604.3 595.7 595.8ZM594.9 615.6 588.6 622.2 588.2 621.0 585.6 626.2 590.6 623.3 589.4 623.0 595.7 616.3ZM594.9 636.0 590.0 640.9 589.6 639.8 586.9 644.8 592.0 642.1 590.8 641.7 595.7 636.8ZM615.6 411.4 615.6 411.6 615.2 411.4 615.8 413.4 616.4 411.4 616.0 411.6 616.0 411.4ZM615.3 431.7 615.2 432.2 614.3 431.5 614.8 436.8 617.3 432.1 616.2 432.4 616.3 431.9ZM615.3 452.0 610.8 461.6 610.0 460.6 609.2 466.3 613.0 462.0 611.8 462.0 616.3 452.5ZM615.2 472.6 610.2 487.6 609.3 486.7 609.2 492.4 612.5 487.7 611.3 487.9 616.3 472.9ZM615.2 493.0 609.1 508.9 608.3 508.0 607.9 513.7 611.4 509.2 610.2 509.3 616.3 493.4ZM615.2 513.5 609.1 529.5 608.3 528.6 607.9 534.4 611.4 529.8 610.1 529.9 616.3 513.9ZM615.3 533.9 608.0 550.9 607.2 549.9 606.6 555.6 610.2 551.2 609.0 551.3 616.3 534.3ZM615.3 554.4 606.8 572.8 606.0 571.9 605.3 577.6 609.0 573.3 607.8 573.3 616.3 554.8ZM615.3 574.7 607.5 586.6 606.9 585.5 605.3 591.0 609.7 587.3 608.4 587.2 616.2 575.3ZM615.3 595.2 609.1 603.5 608.5 602.4 606.6 607.8 611.2 604.4 610.0 604.2 616.2 595.8ZM615.4 615.6 609.5 622.1 609.0 621.0 606.6 626.2 611.5 623.2 610.3 622.9 616.2 616.3ZM615.4 636.0 609.6 642.1 609.1 641.0 606.6 646.1 611.5 643.3 610.4 642.9 616.2 636.8ZM635.8 411.3 635.7 411.7 634.8 411.1 635.2 416.0 637.6 411.7 636.6 411.9 636.7 411.5ZM635.7 431.6 633.2 438.2 632.4 437.3 632.0 443.0 635.5 438.4 634.3 438.6 636.7 432.0ZM635.7 452.1 631.4 463.9 630.5 463.0 630.2 468.8 633.6 464.2 632.4 464.3 636.7 452.5ZM635.7 472.6 631.2 486.3 630.4 485.4 630.2 491.1 633.5 486.4 632.3 486.6 636.7 472.9ZM635.7 493.0 630.2 507.4 629.3 506.5 628.9 512.2 632.4 507.7 631.2 507.8 636.7 493.4ZM635.7 513.5 630.1 528.2 629.3 527.3 628.9 533.1 632.4 528.5 631.2 528.6 636.7 513.9ZM635.7 533.9 629.0 549.4 628.2 548.4 627.5 554.1 631.2 549.7 630.0 549.8 636.7 534.3ZM635.7 554.3 628.3 566.6 627.7 565.5 626.2 571.1 630.5 567.2 629.3 567.1 636.7 554.9ZM635.8 574.7 629.7 584.0 629.1 582.9 627.5 588.4 631.9 584.7 630.7 584.6 636.7 575.3ZM635.8 595.2 630.2 602.3 629.6 601.2 627.5 606.5 632.2 603.2 631.0 603.0 636.6 595.8ZM635.8 615.6 629.0 623.4 628.6 622.2 626.2 627.5 631.1 624.4 629.9 624.1 636.6 616.3ZM635.8 636.0 629.4 642.3 629.0 641.1 626.2 646.1 631.3 643.5 630.2 643.1 636.6 636.8ZM656.5 390.9 656.5 391.1 656.1 390.9 656.7 392.9 657.3 390.9 656.9 391.1 656.9 390.9ZM656.2 411.1 653.5 417.2 652.7 416.3 652.1 422.0 655.8 417.6 654.5 417.6 657.2 411.6ZM656.2 431.6 651.8 440.3 651.1 439.4 650.1 445.0 654.0 440.8 652.8 440.8 657.2 432.1ZM656.2 452.1 651.2 464.0 650.4 463.1 649.9 468.8 653.5 464.3 652.3 464.4 657.2 452.5ZM656.1 472.6 652.1 486.2 651.2 485.4 651.2 491.1 654.3 486.3 653.1 486.6 657.2 472.9ZM656.1 493.0 652.0 507.3 651.1 506.5 651.2 512.2 654.3 507.4 653.1 507.6 657.2 493.4ZM656.1 513.5 652.1 526.8 651.2 525.9 651.2 531.7 654.4 526.9 653.1 527.1 657.2 513.8ZM656.2 533.9 651.3 545.6 650.5 544.7 649.9 550.4 653.5 546.0 652.3 546.1 657.2 534.3ZM656.2 554.2 650.0 561.7 649.5 560.6 647.3 565.9 652.1 562.7 650.9 562.4 657.1 554.9ZM656.2 574.7 651.0 581.6 650.5 580.5 648.5 585.8 653.1 582.5 651.9 582.2 657.1 575.4ZM656.3 595.1 650.1 602.4 649.6 601.2 647.3 606.5 652.1 603.4 650.9 603.1 657.1 595.9ZM656.2 615.6 650.0 623.3 649.5 622.2 647.3 627.5 652.0 624.2 650.8 624.0 657.1 616.3ZM656.3 636.0 651.5 640.9 651.1 639.7 648.5 644.8 653.5 642.0 652.3 641.7 657.1 636.8ZM676.7 370.4 676.7 370.9 675.7 370.4 677.1 375.0 678.5 370.4 677.6 370.9 677.6 370.4ZM676.6 390.6 674.9 393.5 674.3 392.5 672.9 398.1 677.1 394.2 675.9 394.1 677.6 391.2ZM676.7 411.1 672.1 418.5 671.4 417.4 669.9 423.0 674.2 419.2 673.0 419.0 677.6 411.7ZM676.7 431.5 671.1 440.5 670.4 439.5 668.9 445.0 673.2 441.2 672.0 441.1 677.6 432.1ZM676.6 452.0 671.0 462.8 670.3 461.8 669.2 467.5 673.2 463.4 672.0 463.3 677.6 452.5ZM676.6 472.5 671.8 484.9 671.0 484.0 670.5 489.7 674.1 485.2 672.8 485.3 677.6 472.9ZM676.6 493.0 672.9 504.8 672.0 504.0 671.9 509.7 675.2 505.0 673.9 505.1 677.6 493.4ZM676.6 513.5 673.1 522.8 672.3 521.9 671.9 527.7 675.4 523.1 674.2 523.2 677.6 513.9ZM676.6 533.9 672.4 541.8 671.7 540.8 670.5 546.4 674.6 542.4 673.4 542.3 677.6 534.4ZM676.7 554.2 671.9 560.4 671.3 559.2 669.2 564.6 673.9 561.3 672.7 561.0 677.6 554.9ZM676.7 574.7 671.0 580.5 670.6 579.4 667.9 584.4 673.0 581.7 671.8 581.3 677.5 575.4ZM676.8 595.1 669.9 601.4 669.5 600.3 666.6 605.2 671.8 602.7 670.6 602.2 677.5 595.9ZM676.7 615.6 671.1 621.0 670.7 619.8 667.9 624.9 673.0 622.2 671.9 621.8 677.5 616.4ZM676.8 636.0 673.9 638.5 673.6 637.3 670.5 642.2 675.7 639.8 674.6 639.4 677.5 636.8ZM697.1 370.2 695.9 372.4 695.2 371.4 694.0 377.0 698.1 373.0 696.8 373.0 698.1 370.7ZM697.2 390.5 692.9 395.1 692.5 393.9 690.0 399.1 694.9 396.2 693.7 395.8 698.0 391.3ZM697.1 411.0 692.4 417.6 691.8 416.5 690.0 422.0 694.5 418.5 693.3 418.3 698.0 411.7ZM697.1 431.5 691.4 439.7 690.8 438.6 689.0 444.0 693.5 440.5 692.3 440.3 698.0 432.1ZM697.1 452.0 691.4 462.7 690.7 461.7 689.6 467.3 693.6 463.2 692.4 463.2 698.1 452.5ZM697.1 472.5 692.4 482.4 691.6 481.5 690.8 487.1 694.6 482.9 693.4 482.9 698.1 473.0ZM697.1 493.0 693.4 502.4 692.6 501.5 692.1 507.2 695.6 502.7 694.4 502.8 698.1 493.4ZM697.1 513.4 693.5 521.8 692.7 520.9 692.1 526.6 695.8 522.1 694.5 522.2 698.1 513.9ZM697.1 533.8 694.0 539.2 693.4 538.2 692.1 543.8 696.2 539.8 695.0 539.8 698.1 534.4ZM697.2 554.2 692.4 559.3 692.0 558.1 689.4 563.3 694.4 560.4 693.2 560.1 698.0 555.0ZM697.2 574.6 691.6 579.5 691.3 578.3 688.2 583.1 693.4 580.8 692.3 580.3 697.9 575.5ZM697.2 595.1 691.5 600.2 691.2 599.0 688.2 603.9 693.4 601.5 692.2 601.0 697.9 595.9ZM697.3 615.5 694.4 617.6 694.2 616.4 690.8 621.0 696.2 619.0 695.1 618.5 697.9 616.4ZM697.4 636.0 697.0 636.2 697.0 635.2 693.4 638.2 698.1 637.7 697.3 637.0 697.8 636.8ZM717.7 370.0 714.3 372.2 714.2 371.0 710.5 375.4 716.0 373.8 715.0 373.2 718.3 370.9ZM717.7 390.5 712.3 395.4 712.0 394.2 709.0 399.1 714.2 396.6 713.1 396.2 718.4 391.3ZM717.6 411.0 712.8 416.8 712.3 415.7 710.0 421.0 714.8 417.8 713.6 417.5 718.5 411.7ZM717.6 431.5 711.7 438.8 711.2 437.7 709.0 443.0 713.8 439.8 712.6 439.5 718.5 432.2ZM717.6 452.0 712.0 461.7 711.3 460.7 710.0 466.3 714.2 462.3 713.0 462.3 718.5 452.6ZM717.5 472.5 713.0 482.4 712.2 481.5 711.4 487.1 715.2 482.8 714.0 482.9 718.5 473.0ZM717.5 493.0 714.0 502.4 713.2 501.5 712.8 507.2 716.3 502.6 715.1 502.8 718.6 493.4ZM717.6 513.4 713.4 520.6 712.7 519.6 711.4 525.2 715.6 521.2 714.4 521.1 718.5 513.9ZM717.6 533.7 713.1 538.5 712.7 537.4 710.1 542.5 715.1 539.6 713.9 539.3 718.4 534.5ZM717.7 554.1 712.4 558.4 712.1 557.2 708.8 561.9 714.2 559.8 713.1 559.2 718.4 555.0ZM717.7 574.6 711.1 579.7 710.9 578.5 707.5 583.1 712.9 581.1 711.8 580.6 718.4 575.5ZM717.7 595.0 712.7 598.2 712.6 597.0 708.8 601.3 714.4 599.8 713.3 599.1 718.3 596.0ZM717.9 615.4 717.3 615.6 717.5 614.4 712.8 617.8 718.6 617.5 717.7 616.7 718.2 616.5ZM718.1 636.2 717.9 636.1 718.3 635.6 715.4 635.6 717.8 637.2 717.7 636.6 718.0 636.7ZM738.3 349.7 738.0 349.9 737.9 349.1 735.5 352.0 739.1 350.9 738.4 350.5 738.7 350.3ZM738.2 370.0 733.9 372.8 733.8 371.6 730.1 376.0 735.6 374.4 734.5 373.8 738.8 370.9ZM738.1 390.5 733.5 394.5 733.2 393.3 730.1 398.1 735.3 395.8 734.2 395.3 738.8 391.3ZM738.1 411.0 732.9 416.9 732.5 415.7 730.1 421.0 735.0 417.9 733.8 417.6 738.9 411.7ZM738.1 431.5 731.9 438.9 731.4 437.7 729.1 443.0 733.9 439.9 732.7 439.6 738.9 432.2ZM738.0 452.0 731.9 461.8 731.3 460.7 729.8 466.3 734.1 462.5 732.9 462.4 739.0 452.6ZM738.0 472.5 732.9 482.5 732.2 481.5 731.2 487.1 735.1 483.0 733.9 483.0 739.0 473.0ZM738.0 493.0 733.9 502.4 733.1 501.5 732.5 507.2 736.2 502.8 734.9 502.9 739.0 493.4ZM738.0 513.3 733.6 519.5 733.0 518.4 731.2 523.9 735.7 520.3 734.5 520.2 738.9 514.0ZM738.1 533.7 733.0 538.7 732.6 537.5 729.8 542.5 734.9 539.9 733.7 539.5 738.9 534.5ZM738.2 554.1 732.5 557.6 732.4 556.3 728.5 560.6 734.1 559.2 733.0 558.5 738.8 555.1ZM738.2 574.6 731.1 578.8 731.1 577.6 727.2 581.8 732.8 580.4 731.7 579.8 738.8 575.5ZM738.3 595.0 735.5 596.2 735.6 594.9 731.2 598.6 736.9 598.0 736.0 597.2 738.7 596.0ZM738.6 615.6 738.2 615.5 738.8 614.9 735.1 615.0 738.2 617.0 738.0 616.2 738.4 616.3ZM738.8 636.3 738.6 636.0 739.3 635.9 736.9 633.8 737.7 636.9 738.1 636.3 738.2 636.6ZM758.7 329.4 758.6 329.6 758.3 329.2 757.9 331.5 759.5 329.8 759.0 329.8 759.1 329.6ZM758.7 349.5 757.4 350.3 757.3 349.1 753.5 353.4 759.1 351.8 758.0 351.2 759.2 350.4ZM758.6 370.0 753.2 373.8 753.0 372.5 749.4 377.0 754.9 375.3 753.8 374.7 759.3 370.9ZM758.6 390.5 752.8 395.4 752.5 394.3 749.4 399.1 754.7 396.8 753.6 396.3 759.3 391.3ZM758.6 411.0 752.3 416.6 751.9 415.5 748.9 420.4 754.1 417.9 753.0 417.5 759.3 411.8ZM758.5 431.4 751.9 438.4 751.5 437.3 748.9 442.4 753.9 439.6 752.7 439.2 759.3 432.2ZM758.5 452.0 752.4 461.7 751.8 460.6 750.2 466.2 754.6 462.4 753.3 462.3 759.4 452.6ZM758.5 472.5 753.4 482.5 752.7 481.5 751.6 487.1 755.6 483.0 754.4 483.0 759.4 473.0ZM758.5 492.9 754.2 501.2 753.4 500.2 752.3 505.8 756.4 501.7 755.1 501.7 759.4 493.5ZM758.5 513.3 754.1 519.5 753.5 518.4 751.6 523.9 756.2 520.3 755.0 520.2 759.4 514.0ZM758.6 533.7 753.0 538.8 752.7 537.6 749.7 542.5 754.9 540.0 753.8 539.6 759.3 534.5ZM758.7 554.1 751.6 558.2 751.6 557.0 747.6 561.2 753.2 559.8 752.2 559.2 759.2 555.1ZM758.7 574.5 752.3 577.8 752.3 576.6 748.1 580.5 753.8 579.5 752.8 578.8 759.2 575.5ZM758.9 595.0 757.9 595.0 758.4 593.9 752.9 595.5 758.4 597.1 757.9 596.0 758.9 596.0ZM759.2 615.6 758.9 615.3 759.8 614.9 755.5 613.1 758.1 617.0 758.3 616.0 758.7 616.3ZM759.3 636.2 759.1 635.9 760.0 635.8 756.9 633.0 757.9 637.0 758.4 636.3 758.6 636.6ZM779.1 309.1 779.1 309.3 778.6 309.1 779.4 311.6 780.1 309.1 779.6 309.3 779.6 309.1ZM779.2 329.3 779.0 329.5 778.8 328.9 777.4 331.5 780.0 330.1 779.4 329.9 779.6 329.7ZM779.1 349.5 776.1 351.8 775.9 350.6 772.5 355.2 777.9 353.2 776.8 352.6 779.7 350.4ZM779.0 370.0 773.3 374.8 773.0 373.7 769.8 378.4 775.1 376.2 774.0 375.7 779.8 370.9ZM779.0 390.5 772.5 396.2 772.2 395.0 769.1 399.9 774.3 397.5 773.2 397.1 779.8 391.3ZM779.0 411.0 771.9 417.8 771.5 416.7 768.7 421.7 773.8 419.0 772.6 418.6 779.8 411.8ZM779.0 431.4 771.8 438.9 771.4 437.7 768.7 442.8 773.7 440.0 772.5 439.7 779.8 432.2ZM778.9 452.0 773.4 461.7 772.7 460.7 771.4 466.3 775.6 462.3 774.3 462.3 779.9 452.6ZM778.9 472.5 774.2 482.4 773.5 481.5 772.6 487.1 776.4 482.9 775.2 482.9 779.9 473.0ZM778.9 492.9 774.5 501.2 773.8 500.2 772.6 505.8 776.7 501.7 775.4 501.7 779.9 493.5ZM778.9 513.3 775.0 519.0 774.4 517.9 772.6 523.4 777.1 519.8 775.9 519.6 779.9 514.0ZM779.1 533.7 774.2 537.6 774.0 536.4 770.7 541.1 776.0 539.0 774.9 538.4 779.7 534.5ZM779.2 554.1 772.3 557.4 772.3 556.2 768.1 560.1 773.8 559.2 772.8 558.4 779.6 555.1ZM779.2 574.5 774.5 576.2 774.6 575.0 770.0 578.4 775.7 578.1 774.8 577.3 779.6 575.6ZM779.5 595.0 778.8 594.8 779.6 593.9 773.9 594.2 778.9 597.1 778.6 595.9 779.3 596.0ZM779.8 615.6 779.5 615.2 780.7 614.9 776.0 611.8 778.1 617.0 778.6 615.9 779.0 616.3ZM779.8 636.1 779.3 635.4 780.6 635.2 776.0 631.7 777.9 637.1 778.5 636.1 779.0 636.7ZM799.6 309.0 799.5 309.3 799.0 308.8 798.9 312.1 800.8 309.4 800.1 309.5 800.2 309.2ZM799.5 329.2 799.2 329.6 798.8 328.7 797.1 333.0 800.9 330.4 799.9 330.1 800.2 329.8ZM799.5 349.6 796.2 352.2 795.9 351.0 792.7 355.8 798.0 353.6 796.9 353.1 800.2 350.4ZM799.5 370.0 792.9 376.1 792.6 374.9 789.7 379.8 794.8 377.3 793.7 376.9 800.2 370.8ZM799.5 390.5 792.2 398.0 791.8 396.8 789.2 401.9 794.2 399.1 793.0 398.7 800.2 391.3ZM799.5 411.0 792.2 418.7 791.7 417.5 789.2 422.7 794.1 419.8 793.0 419.4 800.3 411.7ZM799.5 431.4 792.2 439.1 791.7 438.0 789.2 443.1 794.1 440.3 793.0 439.9 800.3 432.2ZM799.4 452.0 793.8 461.7 793.2 460.7 791.9 466.3 796.0 462.3 794.8 462.3 800.3 452.6ZM799.4 472.5 795.2 481.0 794.5 480.1 793.6 485.7 797.4 481.5 796.2 481.5 800.3 473.0ZM799.4 492.9 795.5 499.9 794.8 498.9 793.6 504.5 797.7 500.5 796.4 500.4 800.3 493.5ZM799.4 513.3 795.6 518.4 795.1 517.3 793.1 522.7 797.7 519.3 796.5 519.0 800.3 514.0ZM799.5 533.7 794.7 537.1 794.5 535.9 791.0 540.4 796.4 538.6 795.3 538.0 800.2 534.6ZM799.6 554.1 792.7 556.9 792.8 555.7 788.4 559.3 794.1 558.7 793.1 557.9 800.1 555.1ZM799.8 574.5 795.8 574.9 796.2 573.8 791.0 576.0 796.6 577.1 795.9 576.0 799.9 575.6ZM800.1 595.0 798.9 594.2 799.9 593.6 794.4 592.1 798.2 596.4 798.3 595.2 799.6 596.0ZM800.2 615.6 798.2 613.6 799.4 613.2 794.4 610.5 797.1 615.5 797.5 614.3 799.5 616.3ZM800.2 636.0 798.3 634.2 799.5 633.8 794.4 631.2 797.2 636.2 797.6 635.0 799.5 636.8ZM819.9 309.1 819.9 309.4 819.2 309.1 820.3 312.7 821.4 309.1 820.7 309.4 820.7 309.1ZM819.9 329.2 818.6 330.6 818.1 329.5 815.7 334.7 820.6 331.7 819.4 331.4 820.7 329.9ZM819.9 349.6 815.5 353.9 815.1 352.7 812.3 357.7 817.4 355.1 816.3 354.6 820.7 350.4ZM819.9 370.0 812.9 376.7 812.5 375.5 809.6 380.4 814.8 377.9 813.6 377.5 820.7 370.8ZM819.9 390.5 812.4 399.2 812.0 398.1 809.6 403.3 814.5 400.2 813.3 399.9 820.7 391.3ZM819.9 411.0 812.4 419.8 811.9 418.7 809.6 424.0 814.4 420.8 813.2 420.5 820.7 411.7ZM819.9 431.5 812.4 440.3 811.9 439.2 809.6 444.4 814.4 441.3 813.2 441.0 820.7 432.2ZM819.8 452.0 814.0 461.8 813.3 460.7 811.9 466.3 816.2 462.4 814.9 462.3 820.8 452.6ZM819.8 472.5 816.0 481.0 815.2 480.0 814.5 485.7 818.3 481.4 817.0 481.4 820.8 473.0ZM819.8 493.0 816.8 499.8 816.0 498.8 815.3 504.5 819.0 500.1 817.8 500.2 820.8 493.4ZM819.9 513.3 816.5 517.2 816.1 516.0 813.7 521.3 818.6 518.2 817.4 517.9 820.7 514.0ZM820.0 533.7 815.0 536.8 814.9 535.6 811.1 539.9 816.6 538.4 815.6 537.7 820.6 534.6ZM820.1 554.1 813.9 556.0 814.1 554.8 809.3 558.0 815.1 557.9 814.2 557.0 820.5 555.1ZM820.3 574.5 817.7 574.3 818.3 573.3 812.7 574.5 818.1 576.5 817.6 575.4 820.3 575.6ZM820.7 595.1 818.5 593.0 819.6 592.6 814.5 590.0 817.4 595.0 817.7 593.8 819.9 595.9ZM820.7 615.6 817.6 612.3 818.7 612.0 813.7 609.2 816.4 614.3 816.8 613.1 819.9 616.3ZM820.7 636.0 817.6 632.8 818.7 632.4 813.7 629.6 816.4 634.7 816.8 633.6 819.9 636.8ZM840.4 308.9 840.2 309.2 839.7 308.5 838.8 312.7 841.8 309.7 840.9 309.6 841.1 309.3ZM840.4 329.1 836.9 332.8 836.5 331.7 834.0 336.8 838.9 333.9 837.7 333.6 841.2 329.9ZM840.3 349.6 835.3 355.7 834.8 354.6 832.6 359.9 837.3 356.7 836.1 356.4 841.2 350.3ZM840.4 370.1 833.1 378.4 832.6 377.2 830.3 382.4 835.1 379.4 833.9 379.1 841.2 370.8ZM840.3 390.5 831.8 400.5 831.3 399.4 829.0 404.6 833.8 401.5 832.6 401.2 841.2 391.3ZM840.3 411.0 831.7 421.2 831.2 420.1 829.0 425.4 833.8 422.2 832.6 421.9 841.2 411.7ZM840.3 431.5 832.5 441.1 832.0 440.0 829.8 445.3 834.5 442.1 833.3 441.8 841.2 432.2ZM840.3 452.0 834.4 461.8 833.8 460.7 832.4 466.3 836.6 462.4 835.4 462.3 841.2 452.6ZM840.3 472.5 836.9 480.9 836.1 480.0 835.6 485.7 839.1 481.2 837.9 481.3 841.3 472.9ZM840.3 493.0 838.1 498.4 837.3 497.5 836.8 503.2 840.3 498.7 839.1 498.8 841.3 493.4ZM840.3 513.3 838.3 515.8 837.8 514.7 835.6 520.0 840.3 516.8 839.1 516.5 841.2 514.0ZM840.5 533.6 836.5 535.8 836.4 534.6 832.4 538.6 838.0 537.5 837.0 536.8 841.0 534.6ZM840.7 554.0 836.4 554.6 836.8 553.5 831.6 555.9 837.2 556.7 836.5 555.7 840.8 555.1ZM841.0 574.6 838.8 573.3 839.8 572.6 834.2 571.3 838.2 575.5 838.2 574.2 840.5 575.5ZM841.2 595.2 838.6 590.8 839.8 590.7 835.6 586.8 837.0 592.4 837.6 591.3 840.3 595.8ZM841.2 615.6 837.2 610.2 838.4 610.0 833.8 606.6 835.7 612.0 836.3 610.9 840.3 616.3ZM841.2 636.1 837.6 631.3 838.8 631.1 834.2 627.7 836.2 633.1 836.7 632.0 840.3 636.8ZM861.0 288.4 860.8 288.6 860.6 288.0 859.2 290.6 861.8 289.2 861.2 289.0 861.4 288.8ZM860.8 308.7 858.2 311.4 857.8 310.2 855.2 315.4 860.2 312.5 859.0 312.2 861.6 309.4ZM860.8 329.2 856.3 334.4 855.8 333.3 853.5 338.5 858.3 335.4 857.2 335.1 861.6 329.9ZM860.8 349.7 854.2 358.4 853.7 357.3 851.7 362.7 856.3 359.3 855.1 359.0 861.7 350.3ZM860.8 370.1 853.0 379.3 852.5 378.2 850.2 383.4 855.0 380.3 853.8 380.0 861.6 370.8ZM860.8 390.6 852.0 401.7 851.5 400.6 849.4 405.9 854.1 402.6 852.9 402.3 861.7 391.2ZM860.8 411.0 852.0 422.5 851.5 421.4 849.4 426.8 854.1 423.4 852.9 423.2 861.7 411.7ZM860.8 431.5 852.8 442.1 852.2 441.0 850.2 446.4 854.8 443.0 853.6 442.8 861.7 432.2ZM860.8 452.0 854.7 461.8 854.0 460.7 852.5 466.3 856.8 462.5 855.6 462.4 861.7 452.6ZM860.7 472.6 857.7 480.9 856.8 480.0 856.5 485.7 859.9 481.1 858.7 481.3 861.7 472.9ZM860.7 493.0 858.9 498.3 858.0 497.5 857.8 503.2 861.2 498.5 859.9 498.7 861.7 493.4ZM860.8 513.3 859.9 514.5 859.4 513.3 857.2 518.7 861.9 515.4 860.7 515.1 861.6 514.0ZM861.0 533.6 857.7 534.9 857.8 533.7 853.3 537.2 859.0 536.7 858.1 535.9 861.4 534.6ZM861.3 554.0 858.9 553.9 859.5 552.8 853.9 554.1 859.3 556.1 858.8 555.0 861.2 555.1ZM861.7 574.8 860.4 572.7 861.6 572.5 857.3 568.7 858.8 574.3 859.5 573.2 860.8 575.3ZM861.7 595.3 858.9 588.6 860.2 588.6 856.5 584.2 857.1 589.9 857.9 589.0 860.7 595.7ZM861.7 615.7 857.0 607.9 858.2 607.8 853.9 604.0 855.4 609.5 856.0 608.5 860.8 616.2ZM861.7 636.2 859.6 630.4 860.8 630.5 857.3 625.9 857.7 631.7 858.5 630.8 860.7 636.6ZM881.5 267.9 881.3 268.1 881.2 267.5 879.7 269.6 882.1 268.7 881.6 268.5 881.8 268.3ZM881.4 288.1 878.2 290.2 878.0 289.0 874.3 293.3 879.8 291.7 878.7 291.1 882.0 289.1ZM881.3 308.7 875.9 314.1 875.5 313.0 872.9 318.1 877.9 315.3 876.7 314.9 882.1 309.4ZM881.3 329.2 874.5 337.2 874.0 336.1 871.7 341.3 876.5 338.2 875.3 337.9 882.1 329.9ZM881.2 349.7 872.3 363.1 871.7 362.1 870.1 367.6 874.5 363.9 873.3 363.7 882.1 350.3ZM881.2 370.1 871.2 383.7 870.6 382.6 868.7 388.0 873.3 384.6 872.1 384.4 882.1 370.8ZM881.2 390.6 871.3 403.2 870.8 402.1 868.7 407.4 873.4 404.1 872.2 403.9 882.1 391.2ZM881.3 411.0 871.4 422.6 871.0 421.5 868.7 426.8 873.5 423.6 872.3 423.3 882.1 411.7ZM881.2 431.5 873.2 442.1 872.7 441.0 870.7 446.4 875.3 443.0 874.1 442.8 882.1 432.2ZM881.2 452.0 875.7 461.7 875.0 460.7 873.7 466.3 877.8 462.3 876.6 462.3 882.2 452.6ZM881.2 472.6 878.7 479.9 877.8 479.0 877.7 484.7 881.0 480.0 879.8 480.2 882.2 472.9ZM881.1 493.0 880.0 497.0 879.1 496.2 879.1 501.9 882.2 497.1 881.0 497.3 882.2 493.4ZM881.2 513.4 880.9 513.8 880.3 512.7 878.6 518.2 883.0 514.6 881.8 514.4 882.1 514.0ZM881.5 533.6 879.7 534.1 879.9 532.9 875.1 535.9 880.8 536.1 880.0 535.1 881.8 534.7ZM881.9 554.1 881.2 553.8 882.2 553.0 876.5 552.2 880.8 556.0 880.7 554.8 881.4 555.1ZM882.2 574.9 881.0 570.7 882.2 571.0 879.1 566.1 879.0 571.9 879.9 571.0 881.1 575.2ZM882.2 595.3 879.8 587.5 881.0 587.7 877.8 582.9 877.8 588.6 878.7 587.8 881.1 595.7ZM882.2 615.8 878.8 607.0 880.0 607.1 876.5 602.6 876.9 608.3 877.8 607.4 881.2 616.2ZM882.2 636.3 880.7 629.8 881.9 630.1 879.1 625.1 878.7 630.8 879.6 630.1 881.1 636.5ZM902.0 247.5 901.8 247.7 901.7 247.2 900.6 249.2 902.6 248.1 902.1 248.0 902.3 247.8ZM901.9 267.7 901.5 268.0 901.4 266.9 898.1 270.6 902.9 269.3 902.0 268.8 902.4 268.5ZM901.8 288.2 896.9 292.6 896.6 291.5 893.6 296.4 898.8 293.9 897.6 293.5 902.5 289.0ZM901.8 308.7 894.1 315.7 893.8 314.5 890.8 319.5 896.0 316.9 894.8 316.5 902.5 309.5ZM901.7 329.2 893.4 339.9 892.9 338.8 890.8 344.1 895.5 340.8 894.3 340.5 902.6 329.9ZM901.7 349.7 891.8 364.6 891.2 363.5 889.5 369.0 893.9 365.3 892.7 365.2 902.6 350.3ZM901.7 370.1 890.6 385.1 890.1 384.0 888.1 389.4 892.7 386.0 891.5 385.8 902.6 370.8ZM901.7 390.6 892.1 403.1 891.6 402.0 889.5 407.4 894.2 404.0 893.0 403.8 902.6 391.2ZM901.7 411.0 892.2 422.6 891.7 421.5 889.5 426.8 894.3 423.5 893.1 423.3 902.6 411.7ZM901.7 431.5 894.2 442.1 893.6 441.0 891.7 446.4 896.3 442.9 895.0 442.7 902.6 432.1ZM901.6 452.1 897.6 461.5 896.8 460.6 896.1 466.3 899.8 461.9 898.6 461.9 902.6 452.5ZM901.6 472.6 900.5 478.3 899.5 477.5 900.1 483.2 902.8 478.1 901.6 478.5 902.7 472.8ZM901.6 493.1 901.1 496.1 900.1 495.4 900.8 501.1 903.4 495.9 902.2 496.3 902.7 493.3ZM901.8 513.5 901.5 513.8 901.0 513.0 900.0 517.4 903.2 514.3 902.3 514.2 902.5 513.9ZM902.1 533.6 901.6 533.6 902.1 532.6 896.9 534.1 902.1 535.7 901.6 534.6 902.1 534.6ZM902.6 554.2 902.2 553.7 903.4 553.5 898.7 550.1 900.7 555.5 901.3 554.4 901.7 554.9ZM902.7 575.0 902.3 569.7 903.4 570.2 901.3 564.8 900.1 570.5 901.2 569.8 901.6 575.1ZM902.7 595.4 901.0 586.4 902.2 586.7 899.5 581.6 898.9 587.3 899.9 586.6 901.6 595.6ZM902.7 615.8 900.4 606.0 901.6 606.2 898.7 601.3 898.4 607.0 899.3 606.2 901.6 616.1ZM902.7 636.4 902.7 627.5 903.8 628.0 902.1 622.5 900.5 628.0 901.6 627.5 901.6 636.4ZM922.3 247.2 921.1 247.9 921.0 246.7 917.1 250.9 922.7 249.5 921.6 248.9 922.9 248.2ZM922.3 267.7 917.8 270.8 917.6 269.6 914.0 274.0 919.5 272.3 918.4 271.7 922.9 268.6ZM922.2 288.2 914.6 294.4 914.3 293.2 911.1 298.0 916.4 295.8 915.3 295.3 922.9 289.0ZM922.2 308.7 913.0 318.3 912.6 317.1 910.0 322.3 915.0 319.4 913.8 319.1 923.0 309.4ZM922.2 329.2 912.6 341.3 912.1 340.2 910.0 345.5 914.7 342.2 913.5 342.0 923.0 329.9ZM922.1 349.7 911.0 365.6 910.4 364.5 908.6 370.0 913.1 366.4 911.9 366.2 923.0 350.3ZM922.1 370.1 911.1 385.1 910.5 384.0 908.6 389.4 913.2 386.0 912.0 385.8 923.0 370.8ZM922.1 390.6 912.6 403.1 912.0 402.0 910.0 407.4 914.6 404.0 913.4 403.8 923.0 391.2ZM922.1 411.0 913.8 422.4 913.2 421.3 911.3 426.8 915.9 423.3 914.7 423.1 923.0 411.7ZM922.1 431.5 915.7 441.9 915.1 440.9 913.6 446.4 917.9 442.6 916.7 442.5 923.1 432.1ZM922.1 452.1 919.6 460.0 918.7 459.1 918.6 464.9 921.8 460.1 920.6 460.3 923.1 452.4ZM922.0 472.7 921.5 478.3 920.5 477.6 921.6 483.2 923.7 477.9 922.6 478.4 923.1 472.8ZM922.0 493.2 922.0 494.2 920.9 493.6 922.3 499.2 924.2 493.8 923.1 494.3 923.1 493.2ZM922.3 513.6 922.2 513.8 921.9 513.4 921.6 516.1 923.3 514.0 922.7 514.0 922.8 513.8ZM922.7 533.7 922.2 533.6 922.8 532.9 918.4 533.3 922.3 535.4 922.1 534.5 922.5 534.5ZM923.1 554.5 922.6 552.3 923.8 552.6 921.0 547.6 920.6 553.3 921.6 552.5 922.0 554.7ZM923.1 575.0 923.1 568.5 924.2 569.0 922.6 563.5 920.9 569.0 922.0 568.5 922.0 575.0ZM923.1 595.5 923.1 586.5 924.2 587.1 922.6 581.6 920.9 587.1 922.0 586.5 922.0 595.5ZM923.1 616.0 923.5 606.2 924.5 606.8 923.1 601.3 921.2 606.7 922.4 606.2 922.0 615.9ZM923.1 636.6 925.6 626.2 926.6 627.0 926.3 621.2 923.4 626.2 924.6 625.9 922.1 636.3ZM942.7 226.9 942.4 227.3 941.9 226.4 940.2 231.0 944.2 228.1 943.1 227.9 943.4 227.5ZM942.7 247.2 938.9 249.7 938.8 248.5 935.0 252.9 940.6 251.3 939.5 250.6 943.3 248.1ZM942.7 267.7 934.3 273.8 934.1 272.6 930.6 277.1 936.1 275.2 935.0 274.7 943.4 268.6ZM942.7 288.2 932.6 296.8 932.3 295.6 929.2 300.4 934.5 298.1 933.4 297.6 943.4 289.0ZM942.6 308.7 932.3 319.7 931.9 318.5 929.3 323.7 934.3 320.8 933.1 320.4 943.4 309.4ZM942.6 329.2 932.1 341.4 931.7 340.3 929.3 345.5 934.2 342.4 933.0 342.1 943.5 329.9ZM942.6 349.6 930.7 364.8 930.2 363.6 928.0 369.0 932.7 365.7 931.5 365.4 943.5 350.3ZM942.6 370.1 931.9 383.8 931.4 382.7 929.3 388.0 934.0 384.7 932.8 384.5 943.5 370.8ZM942.6 390.6 934.3 403.0 933.7 401.9 932.0 407.4 936.5 403.7 935.2 403.6 943.5 391.2ZM942.6 411.1 936.9 420.8 936.2 419.8 934.8 425.4 939.0 421.4 937.8 421.4 943.5 411.6ZM942.5 431.6 938.9 440.5 938.1 439.6 937.5 445.3 941.1 440.8 939.9 440.9 943.5 432.0ZM942.5 452.2 941.6 458.3 940.6 457.6 941.4 463.3 943.9 458.1 942.7 458.5 943.6 452.4ZM942.5 472.7 942.3 476.8 941.2 476.2 942.5 481.7 944.5 476.3 943.4 476.8 943.6 472.8ZM942.6 493.2 942.6 493.7 941.6 493.2 943.0 497.9 944.4 493.2 943.5 493.7 943.5 493.2ZM942.9 513.6 942.9 513.7 942.7 513.5 942.5 514.7 943.3 513.8 943.1 513.8 943.1 513.7ZM943.2 533.9 943.0 533.7 943.5 533.4 940.6 532.5 942.6 534.8 942.6 534.2 942.9 534.4ZM943.6 554.5 943.4 551.9 944.5 552.4 942.5 547.0 941.3 552.6 942.3 552.0 942.5 554.6ZM943.6 575.1 944.2 568.5 945.2 569.2 944.0 563.5 941.9 568.9 943.1 568.4 942.5 575.0ZM943.6 595.5 944.2 587.1 945.3 587.7 944.0 582.1 942.0 587.5 943.1 587.0 942.5 595.5ZM943.6 616.0 944.9 606.2 945.9 606.9 945.0 601.3 942.7 606.5 943.8 606.1 942.5 615.9ZM943.6 636.6 947.4 626.1 948.2 627.0 948.5 621.2 945.1 625.8 946.3 625.7 942.5 636.2ZM963.1 226.8 960.8 228.8 960.5 227.6 957.5 232.5 962.7 230.1 961.6 229.7 963.9 227.6ZM963.2 247.2 955.5 251.7 955.4 250.5 951.5 254.7 957.1 253.3 956.0 252.7 963.8 248.2ZM963.2 267.7 952.4 275.3 952.2 274.1 948.7 278.6 954.1 276.8 953.1 276.2 963.8 268.6ZM963.2 288.2 950.7 297.4 950.5 296.2 947.1 300.8 952.5 298.8 951.4 298.3 963.8 289.0ZM963.1 308.7 953.0 319.1 952.6 318.0 950.0 323.1 955.0 320.2 953.8 319.9 963.9 309.4ZM963.1 329.2 952.4 341.0 952.0 339.8 949.5 345.0 954.4 342.0 953.2 341.7 963.9 329.9ZM963.1 349.6 951.5 363.4 951.0 362.3 948.7 367.6 953.5 364.4 952.3 364.1 963.9 350.3ZM963.0 370.1 957.1 379.7 956.4 378.6 954.9 384.1 959.2 380.4 958.0 380.2 964.0 370.7ZM963.0 390.7 959.8 398.7 959.0 397.8 958.5 403.5 962.1 399.0 960.8 399.1 964.0 391.1ZM963.0 411.2 960.8 419.2 959.9 418.4 960.0 424.2 963.0 419.3 961.8 419.5 964.0 411.5ZM963.0 431.7 961.8 439.5 960.8 438.8 961.7 444.5 964.1 439.3 962.9 439.7 964.0 431.9ZM962.9 452.3 962.9 456.0 961.8 455.5 963.5 461.0 965.1 455.5 964.0 456.0 964.0 452.3ZM962.9 472.7 962.9 474.3 961.8 473.7 963.5 479.2 965.1 473.7 964.0 474.3 964.0 472.7ZM963.2 493.2 963.2 493.5 962.6 493.2 963.5 496.2 964.4 493.2 963.8 493.5 963.8 493.2ZM964.0 513.7 963.8 514.1 963.2 514.1 962.9 513.7 963.2 513.2 963.8 513.2ZM963.8 534.2 963.9 533.9 964.4 534.4 964.5 531.1 962.6 533.8 963.3 533.7 963.2 534.0ZM964.0 554.7 964.9 551.1 965.8 551.9 965.5 546.2 962.6 551.1 963.8 550.9 963.0 554.5ZM964.0 575.2 965.7 569.0 966.6 569.8 966.5 564.0 963.5 568.9 964.7 568.7 963.0 574.9ZM964.0 595.7 966.3 587.8 967.2 588.6 967.2 582.9 964.1 587.7 965.3 587.5 963.0 595.3ZM964.0 616.2 967.8 606.1 968.6 607.0 969.0 601.3 965.5 605.8 966.7 605.7 963.0 615.8ZM964.0 636.7 969.4 625.9 970.1 626.9 971.1 621.2 967.2 625.4 968.4 625.4 963.0 636.2ZM983.6 206.4 983.1 206.9 982.7 205.7 980.0 210.8 985.0 208.0 983.8 207.6 984.3 207.1ZM983.6 226.8 978.7 230.2 978.5 228.9 975.0 233.4 980.4 231.7 979.3 231.1 984.3 227.7ZM983.7 247.2 974.0 252.6 974.0 251.4 970.0 255.5 975.6 254.2 974.5 253.6 984.2 248.2ZM983.7 267.7 969.0 275.8 969.0 274.5 965.0 278.6 970.6 277.4 969.5 276.7 984.2 268.6ZM983.7 288.1 969.2 296.9 969.1 295.6 965.2 299.9 970.8 298.5 969.8 297.8 984.2 289.1ZM983.6 308.6 973.4 317.4 973.1 316.2 970.0 321.1 975.2 318.7 974.1 318.3 984.3 309.5ZM983.5 329.1 973.9 339.5 973.5 338.4 971.0 343.5 975.9 340.6 974.7 340.3 984.4 329.9ZM983.5 349.6 975.9 358.0 975.5 356.8 973.0 362.0 977.9 359.0 976.7 358.7 984.4 350.4ZM983.5 370.2 980.7 375.8 979.9 374.8 979.0 380.4 982.9 376.3 981.7 376.3 984.4 370.7ZM983.4 390.8 982.3 396.9 981.3 396.2 982.0 401.9 984.6 396.8 983.4 397.1 984.5 391.0ZM983.4 411.4 983.4 417.4 982.3 416.9 984.0 422.4 985.6 416.9 984.5 417.4 984.5 411.4ZM983.4 431.8 983.4 437.9 982.3 437.3 984.0 442.8 985.6 437.3 984.5 437.9 984.5 431.8ZM983.4 452.3 983.4 454.6 982.3 454.1 984.0 459.6 985.6 454.1 984.5 454.6 984.5 452.3ZM983.6 472.7 983.6 473.1 982.8 472.7 984.0 476.7 985.2 472.7 984.4 473.1 984.4 472.7ZM984.5 493.2 984.2 493.7 983.7 493.7 983.4 493.2 983.7 492.7 984.2 492.7ZM984.5 513.7 984.2 514.1 983.7 514.1 983.4 513.7 983.7 513.2 984.2 513.2ZM984.2 534.1 984.2 533.8 984.9 534.1 984.0 531.1 983.1 534.1 983.7 533.8 983.7 534.1ZM984.4 554.8 986.3 550.9 987.1 551.9 988.0 546.2 984.1 550.4 985.3 550.4 983.5 554.3ZM984.4 575.3 988.4 568.6 989.1 569.6 990.5 564.0 986.2 567.9 987.5 568.0 983.5 574.8ZM984.4 595.7 988.2 588.4 988.9 589.4 990.0 583.7 986.0 587.9 987.2 587.9 983.5 595.3ZM984.4 616.2 989.7 606.6 990.4 607.6 991.6 602.0 987.5 606.0 988.7 606.0 983.5 615.7ZM984.4 636.7 991.1 626.2 991.8 627.2 993.4 621.7 989.0 625.5 990.2 625.6 983.5 636.1ZM1004.0 206.4 1002.5 207.9 1002.1 206.7 999.4 211.8 1004.5 209.0 1003.3 208.6 1004.8 207.1ZM1004.1 226.7 997.0 230.6 997.0 229.4 992.9 233.4 998.5 232.3 997.5 231.6 1004.7 227.7ZM1004.2 247.2 992.3 253.2 992.3 251.9 988.1 255.9 993.8 254.9 992.8 254.1 1004.7 248.2ZM1004.1 267.7 988.7 275.8 988.7 274.6 984.6 278.6 990.2 277.5 989.2 276.8 1004.7 268.6ZM1004.1 288.1 988.8 297.1 988.7 295.9 984.8 300.1 990.4 298.7 989.4 298.1 1004.7 289.1ZM1004.1 308.6 994.1 315.7 993.9 314.5 990.4 319.1 995.8 317.2 994.8 316.6 1004.7 309.5ZM1004.0 329.1 996.3 337.5 995.9 336.4 993.4 341.5 998.3 338.6 997.2 338.2 1004.8 329.9ZM1004.0 349.6 1001.2 352.9 1000.7 351.7 998.4 357.0 1003.2 353.9 1002.0 353.6 1004.8 350.3ZM1003.9 370.2 1003.2 371.7 1002.5 370.7 1001.7 376.4 1005.5 372.1 1004.2 372.2 1004.9 370.7ZM1003.9 390.9 1003.9 392.0 1002.8 391.4 1004.4 396.9 1006.1 391.4 1005.0 392.0 1005.0 390.9ZM1003.9 411.4 1003.9 412.4 1002.8 411.9 1004.4 417.4 1006.1 411.9 1005.0 412.4 1005.0 411.4ZM1003.9 431.8 1003.9 433.9 1002.8 433.3 1004.4 438.8 1006.1 433.3 1005.0 433.9 1005.0 431.8ZM1004.1 452.3 1004.1 452.6 1003.4 452.3 1004.4 455.7 1005.4 452.3 1004.7 452.6 1004.7 452.3ZM1005.0 472.7 1004.7 473.2 1004.1 473.2 1003.9 472.7 1004.1 472.3 1004.7 472.3ZM1005.0 493.2 1004.7 493.7 1004.1 493.7 1003.9 493.2 1004.1 492.7 1004.7 492.7ZM1005.0 513.7 1004.7 514.1 1004.1 514.1 1003.9 513.7 1004.1 513.2 1004.7 513.2ZM1004.7 534.2 1004.8 533.9 1005.3 534.4 1005.4 531.1 1003.5 533.8 1004.2 533.7 1004.1 534.0ZM1004.9 554.9 1007.8 550.6 1008.4 551.6 1010.2 546.2 1005.7 549.8 1006.9 549.9 1004.0 554.3ZM1004.8 575.4 1009.7 569.2 1010.3 570.4 1012.4 565.0 1007.7 568.3 1008.9 568.6 1004.0 574.7ZM1004.8 595.8 1010.5 588.5 1011.1 589.6 1013.1 584.2 1008.4 587.6 1009.6 587.8 1004.0 595.2ZM1004.8 616.3 1011.8 607.3 1012.3 608.4 1014.4 603.1 1009.7 606.4 1010.9 606.6 1004.0 615.6ZM1004.8 636.8 1013.0 626.7 1013.5 627.8 1015.7 622.5 1011.0 625.7 1012.2 626.0 1004.0 636.1ZM1024.6 206.3 1021.8 207.9 1021.7 206.7 1017.9 211.0 1023.4 209.5 1022.4 208.9 1025.1 207.2ZM1024.7 226.7 1014.6 230.8 1014.7 229.6 1010.3 233.2 1016.0 232.7 1015.0 231.8 1025.1 227.7ZM1024.6 247.2 1011.5 253.1 1011.6 251.9 1007.3 255.7 1012.9 254.9 1012.0 254.1 1025.1 248.2ZM1024.6 267.6 1009.2 274.3 1009.3 273.1 1004.9 276.7 1010.6 276.1 1009.6 275.3 1025.1 268.6ZM1024.6 288.1 1010.1 295.2 1010.1 294.0 1005.9 297.9 1011.5 297.0 1010.5 296.2 1025.1 289.1ZM1024.6 308.6 1016.1 314.0 1015.9 312.7 1012.2 317.1 1017.7 315.5 1016.6 314.9 1025.2 309.5ZM1024.7 329.0 1020.4 330.4 1020.6 329.2 1015.9 332.5 1021.6 332.3 1020.7 331.5 1025.0 330.0ZM1024.8 349.5 1024.3 349.6 1024.6 348.6 1020.4 351.0 1025.2 351.3 1024.5 350.5 1025.0 350.4ZM1025.4 370.4 1025.1 370.9 1024.6 370.9 1024.3 370.4 1024.6 370.0 1025.1 370.0ZM1025.4 390.9 1025.1 391.4 1024.6 391.4 1024.3 390.9 1024.6 390.4 1025.1 390.4ZM1024.6 411.4 1024.6 411.7 1024.0 411.4 1024.9 414.4 1025.8 411.4 1025.2 411.7 1025.2 411.4ZM1024.5 431.8 1024.5 432.2 1023.7 431.8 1024.9 435.8 1026.1 431.8 1025.3 432.2 1025.3 431.8ZM1025.4 452.3 1025.1 452.8 1024.6 452.8 1024.3 452.3 1024.6 451.8 1025.1 451.8ZM1025.4 472.7 1025.1 473.2 1024.6 473.2 1024.3 472.7 1024.6 472.3 1025.1 472.3ZM1025.4 493.2 1025.1 493.7 1024.6 493.7 1024.3 493.2 1024.6 492.7 1025.1 492.7ZM1025.4 513.7 1025.1 514.1 1024.6 514.1 1024.3 513.7 1024.6 513.2 1025.1 513.2ZM1025.3 534.4 1025.6 534.0 1026.1 535.0 1027.9 530.1 1023.7 533.2 1024.8 533.4 1024.5 533.8ZM1025.3 555.0 1029.1 550.9 1029.5 552.1 1032.2 547.0 1027.2 549.8 1028.3 550.2 1024.5 554.2ZM1025.2 575.5 1031.4 570.2 1031.7 571.4 1034.9 566.6 1029.6 568.9 1030.7 569.4 1024.5 574.6ZM1025.3 595.9 1031.5 589.4 1031.9 590.6 1034.6 585.5 1029.5 588.3 1030.7 588.7 1024.5 595.1ZM1025.2 616.3 1033.0 608.5 1033.4 609.7 1036.2 604.7 1031.1 607.4 1032.3 607.8 1024.5 615.6ZM1025.2 636.8 1034.3 627.7 1034.7 628.9 1037.5 623.8 1032.4 626.5 1033.6 626.9 1024.5 636.0ZM1045.2 186.1 1045.0 186.2 1045.0 185.6 1042.8 187.3 1045.6 187.1 1045.2 186.7 1045.4 186.6ZM1045.1 206.3 1040.2 208.3 1040.2 207.1 1035.8 210.8 1041.5 210.1 1040.6 209.3 1045.5 207.3ZM1045.2 226.7 1033.4 230.3 1033.6 229.0 1028.8 232.2 1034.6 232.2 1033.7 231.3 1045.5 227.7ZM1045.1 247.2 1031.8 251.9 1031.9 250.7 1027.3 254.1 1033.0 253.8 1032.2 252.9 1045.5 248.2ZM1045.2 267.6 1030.4 272.2 1030.6 270.9 1025.8 274.1 1031.6 274.1 1030.7 273.2 1045.5 268.7ZM1045.2 288.1 1032.1 291.7 1032.4 290.5 1027.5 293.6 1033.3 293.7 1032.4 292.8 1045.5 289.1ZM1045.2 308.5 1038.1 309.7 1038.5 308.5 1033.3 311.1 1039.0 311.8 1038.3 310.8 1045.4 309.6ZM1045.4 329.0 1041.3 328.5 1042.0 327.5 1036.3 328.5 1041.6 330.8 1041.2 329.6 1045.3 330.1ZM1045.6 349.5 1044.8 349.1 1045.9 348.4 1040.3 347.0 1044.2 351.2 1044.3 350.0 1045.0 350.5ZM1045.6 370.2 1045.4 369.9 1046.2 369.8 1043.3 367.4 1044.4 371.0 1044.8 370.3 1045.0 370.6ZM1045.9 390.9 1045.6 391.4 1045.0 391.4 1044.8 390.9 1045.0 390.4 1045.6 390.4ZM1045.9 411.4 1045.6 411.8 1045.0 411.8 1044.8 411.4 1045.0 410.9 1045.6 410.9ZM1045.9 431.8 1045.6 432.3 1045.0 432.3 1044.8 431.8 1045.0 431.3 1045.6 431.3ZM1045.9 452.3 1045.6 452.8 1045.0 452.8 1044.8 452.3 1045.0 451.8 1045.6 451.8ZM1045.9 472.7 1045.6 473.2 1045.0 473.2 1044.8 472.7 1045.0 472.3 1045.6 472.3ZM1045.9 493.2 1045.6 493.7 1045.0 493.7 1044.8 493.2 1045.0 492.7 1045.6 492.7ZM1045.9 513.7 1045.6 514.1 1045.0 514.1 1044.8 513.7 1045.0 513.2 1045.6 513.2ZM1045.6 534.4 1045.9 534.1 1046.2 535.0 1048.3 531.1 1044.4 533.2 1045.3 533.5 1045.0 533.8ZM1045.7 555.0 1049.7 551.8 1049.9 553.0 1053.2 548.3 1047.9 550.4 1049.0 550.9 1045.0 554.1ZM1045.6 575.5 1053.1 571.0 1053.2 572.3 1057.1 568.0 1051.5 569.4 1052.6 570.1 1045.0 574.6ZM1045.6 595.9 1052.6 590.9 1052.8 592.1 1056.3 587.5 1050.9 589.4 1052.0 590.0 1045.0 595.1ZM1045.7 616.4 1053.6 610.1 1053.8 611.3 1057.1 606.6 1051.8 608.7 1052.9 609.2 1045.0 615.5ZM1045.6 636.9 1055.3 629.8 1055.5 631.0 1058.9 626.4 1053.5 628.3 1054.6 628.9 1045.0 636.0ZM1065.6 185.9 1065.2 186.1 1065.2 185.1 1061.8 188.3 1066.4 187.5 1065.6 186.9 1066.0 186.7ZM1065.6 206.2 1059.4 207.8 1059.7 206.6 1054.8 209.6 1060.5 209.8 1059.7 208.9 1065.9 207.3ZM1065.7 226.7 1054.5 228.9 1054.8 227.7 1049.8 230.4 1055.5 231.0 1054.7 230.0 1065.9 227.8ZM1065.7 247.1 1053.5 249.3 1053.9 248.1 1048.8 250.7 1054.5 251.3 1053.7 250.4 1065.9 248.2ZM1065.7 267.6 1051.1 269.5 1051.5 268.3 1046.3 270.6 1051.9 271.6 1051.2 270.6 1065.8 268.7ZM1065.7 288.1 1054.9 289.0 1055.3 287.9 1050.0 290.0 1055.6 291.2 1054.9 290.1 1065.8 289.1ZM1065.9 308.5 1060.7 307.5 1061.5 306.5 1055.8 307.1 1060.8 309.8 1060.5 308.6 1065.7 309.6ZM1066.0 329.0 1061.4 326.7 1062.4 326.0 1056.8 325.0 1061.0 329.0 1061.0 327.7 1065.5 330.0ZM1066.1 349.6 1063.9 347.7 1065.1 347.2 1059.8 345.0 1062.9 349.8 1063.2 348.6 1065.4 350.4ZM1066.2 370.2 1065.9 369.8 1066.9 369.7 1063.4 366.6 1064.6 371.2 1065.2 370.3 1065.4 370.7ZM1066.1 390.9 1066.1 390.6 1066.7 390.9 1065.8 387.9 1064.9 390.9 1065.5 390.6 1065.5 390.9ZM1066.0 411.4 1066.0 411.2 1066.4 411.4 1065.8 409.4 1065.2 411.4 1065.6 411.2 1065.6 411.4ZM1066.3 431.8 1066.0 432.3 1065.5 432.3 1065.2 431.8 1065.5 431.3 1066.0 431.3ZM1066.3 452.3 1066.0 452.8 1065.5 452.8 1065.2 452.3 1065.5 451.8 1066.0 451.8ZM1066.3 472.7 1066.0 473.2 1065.5 473.2 1065.2 472.7 1065.5 472.3 1066.0 472.3ZM1066.3 493.2 1066.0 493.7 1065.5 493.7 1065.2 493.2 1065.5 492.7 1066.0 492.7ZM1066.3 513.7 1066.0 514.1 1065.5 514.1 1065.2 513.7 1065.5 513.2 1066.0 513.2ZM1065.6 534.1 1065.6 534.3 1065.2 534.1 1065.8 536.1 1066.4 534.1 1066.0 534.3 1066.0 534.1ZM1066.1 555.0 1068.8 553.0 1069.0 554.2 1072.4 549.6 1067.0 551.6 1068.1 552.1 1065.4 554.1ZM1066.0 575.5 1073.8 571.8 1073.8 573.1 1078.1 569.2 1072.4 570.1 1073.4 570.9 1065.5 574.5ZM1066.0 596.0 1073.3 591.8 1073.3 593.1 1077.3 588.9 1071.7 590.2 1072.7 590.9 1065.5 595.0ZM1066.1 616.4 1073.5 611.2 1073.7 612.5 1077.3 608.0 1071.8 609.7 1072.9 610.3 1065.5 615.5ZM1066.0 636.9 1075.9 631.4 1076.0 632.6 1080.0 628.5 1074.4 629.8 1075.4 630.4 1065.5 635.9ZM1086.0 185.8 1084.7 186.3 1084.8 185.1 1080.2 188.5 1086.0 188.2 1085.1 187.3 1086.4 186.8ZM1086.1 206.2 1077.0 207.5 1077.4 206.3 1072.2 208.8 1077.9 209.6 1077.2 208.6 1086.3 207.3ZM1086.2 226.7 1074.1 228.2 1074.5 227.1 1069.2 229.4 1074.9 230.4 1074.2 229.3 1086.3 227.8ZM1086.2 247.1 1073.9 248.6 1074.3 247.4 1069.0 249.7 1074.7 250.7 1074.0 249.7 1086.3 248.2ZM1086.2 267.6 1073.8 268.3 1074.3 267.2 1068.9 269.1 1074.5 270.5 1073.9 269.4 1086.3 268.7ZM1086.2 288.1 1077.4 288.1 1077.9 287.0 1072.4 288.6 1077.9 290.2 1077.4 289.2 1086.2 289.2ZM1086.4 308.5 1081.0 306.4 1081.9 305.6 1076.2 305.1 1080.7 308.6 1080.6 307.4 1086.0 309.6ZM1086.6 329.1 1081.5 325.1 1082.6 324.6 1077.2 322.5 1080.6 327.2 1080.8 326.0 1085.9 330.0ZM1086.6 349.6 1084.5 347.3 1085.7 346.9 1080.7 344.0 1083.2 349.1 1083.7 348.0 1085.8 350.4ZM1086.7 370.2 1086.5 369.8 1087.6 369.8 1084.2 365.9 1084.9 371.0 1085.6 370.2 1085.8 370.6ZM1086.6 390.8 1086.5 390.5 1087.3 390.6 1085.2 387.4 1085.2 391.2 1085.8 390.7 1085.9 391.0ZM1086.6 411.4 1086.6 411.0 1087.3 411.4 1086.2 407.9 1085.2 411.4 1085.9 411.0 1085.9 411.4ZM1086.6 431.8 1086.6 431.4 1087.4 431.8 1086.2 427.8 1085.0 431.8 1085.8 431.4 1085.8 431.8ZM1086.7 452.3 1086.7 451.8 1087.7 452.3 1086.2 447.3 1084.7 452.3 1085.7 451.8 1085.7 452.3ZM1086.6 472.7 1086.6 472.3 1087.4 472.7 1086.2 468.7 1085.0 472.7 1085.8 472.3 1085.8 472.7ZM1086.8 493.2 1086.5 493.7 1085.9 493.7 1085.7 493.2 1085.9 492.7 1086.5 492.7ZM1086.8 513.7 1086.5 514.1 1085.9 514.1 1085.7 513.7 1085.9 513.2 1086.5 513.2ZM1086.8 534.1 1086.5 534.6 1085.9 534.6 1085.7 534.1 1085.9 533.6 1086.5 533.6ZM1086.6 555.0 1088.0 553.7 1088.3 554.9 1091.4 550.1 1086.2 552.4 1087.3 552.9 1085.9 554.2ZM1086.4 575.5 1093.7 572.5 1093.6 573.7 1098.0 570.0 1092.3 570.7 1093.3 571.5 1086.0 574.5ZM1086.5 596.0 1094.0 592.2 1094.0 593.4 1098.2 589.5 1092.6 590.5 1093.6 591.2 1086.0 595.0ZM1086.5 616.4 1094.2 612.1 1094.3 613.3 1098.2 609.2 1092.6 610.4 1093.6 611.1 1086.0 615.5ZM1086.4 636.9 1095.8 632.9 1095.7 634.1 1100.1 630.4 1094.4 631.1 1095.4 631.9 1086.0 635.9ZM1106.5 185.8 1104.7 186.3 1105.0 185.1 1100.2 188.3 1105.9 188.3 1105.1 187.4 1106.8 186.8ZM1106.6 206.2 1095.5 207.6 1095.9 206.4 1090.7 208.8 1096.3 209.7 1095.7 208.7 1106.7 207.3ZM1106.6 226.7 1093.6 227.9 1094.0 226.8 1088.7 228.9 1094.3 230.0 1093.7 229.0 1106.7 227.8ZM1106.6 247.1 1094.1 247.8 1094.6 246.7 1089.2 248.7 1094.8 250.0 1094.2 248.9 1106.7 248.2ZM1106.7 267.6 1096.3 267.7 1096.9 266.6 1091.4 268.3 1096.9 269.9 1096.3 268.8 1106.7 268.7ZM1106.7 288.1 1099.5 287.2 1100.1 286.1 1094.5 287.1 1099.7 289.4 1099.3 288.2 1106.6 289.1ZM1107.0 308.6 1102.2 305.7 1103.2 305.0 1097.7 303.6 1101.5 307.8 1101.6 306.6 1106.4 309.5ZM1107.0 329.1 1101.9 325.1 1103.0 324.6 1097.7 322.5 1101.0 327.2 1101.2 326.0 1106.3 330.0ZM1107.1 349.6 1104.8 346.9 1106.0 346.6 1101.2 343.5 1103.5 348.7 1104.0 347.6 1106.3 350.3ZM1107.1 370.2 1106.9 369.8 1108.0 369.8 1104.7 365.9 1105.3 371.0 1106.0 370.2 1106.2 370.6ZM1107.1 390.8 1107.0 390.4 1107.9 390.6 1105.7 386.9 1105.5 391.2 1106.2 390.6 1106.3 391.0ZM1107.1 411.4 1107.1 411.0 1107.9 411.4 1106.7 407.4 1105.5 411.4 1106.3 411.0 1106.3 411.4ZM1107.2 431.7 1107.1 431.2 1108.2 431.5 1105.7 426.8 1105.2 432.1 1106.1 431.4 1106.2 431.9ZM1107.2 452.0 1105.9 449.5 1107.2 449.5 1103.3 445.3 1104.2 450.9 1104.9 450.0 1106.2 452.5ZM1107.1 472.4 1106.4 471.4 1107.7 471.2 1103.3 467.5 1104.9 473.0 1105.5 472.0 1106.2 473.0ZM1106.7 493.0 1106.5 493.0 1106.7 492.6 1104.7 493.2 1106.7 493.8 1106.5 493.4 1106.7 493.4ZM1107.2 513.7 1107.0 514.1 1106.4 514.1 1106.1 513.7 1106.4 513.2 1107.0 513.2ZM1107.2 534.1 1107.0 534.6 1106.4 534.6 1106.1 534.1 1106.4 533.6 1107.0 533.6ZM1107.1 554.9 1107.4 554.4 1108.0 555.5 1109.7 550.1 1105.3 553.7 1106.5 553.8 1106.2 554.3ZM1106.9 575.5 1113.4 572.6 1113.4 573.8 1117.7 570.0 1112.0 570.8 1112.9 571.6 1106.5 574.5ZM1106.9 596.0 1114.8 593.0 1114.7 594.3 1119.3 590.8 1113.6 591.2 1114.4 592.0 1106.5 595.0ZM1106.9 616.5 1114.2 613.0 1114.2 614.3 1118.5 610.5 1112.8 611.3 1113.8 612.1 1106.4 615.5ZM1106.9 636.9 1115.7 633.5 1115.5 634.7 1120.1 631.2 1114.4 631.7 1115.3 632.5 1106.5 635.9ZM1127.0 185.8 1122.8 186.9 1123.0 185.7 1118.1 188.8 1123.9 188.9 1123.1 188.0 1127.3 186.8ZM1127.1 206.2 1115.5 207.6 1115.9 206.5 1110.6 208.8 1116.3 209.7 1115.6 208.7 1127.2 207.3ZM1127.1 226.7 1115.0 227.7 1115.5 226.6 1110.1 228.7 1115.8 229.9 1115.1 228.8 1127.2 227.8ZM1127.1 247.1 1115.0 247.8 1115.5 246.7 1110.1 248.7 1115.7 250.0 1115.1 248.9 1127.2 248.2ZM1127.2 267.6 1118.9 267.3 1119.5 266.2 1113.9 267.6 1119.4 269.5 1118.9 268.4 1127.1 268.7ZM1127.2 288.1 1122.3 287.1 1123.1 286.1 1117.3 286.6 1122.4 289.3 1122.1 288.1 1127.0 289.1ZM1127.4 308.6 1123.1 306.1 1124.1 305.4 1118.5 304.1 1122.5 308.3 1122.5 307.0 1126.9 309.5ZM1127.4 329.1 1124.6 327.2 1125.7 326.6 1120.1 325.0 1123.9 329.4 1124.0 328.2 1126.8 330.0ZM1127.5 349.6 1127.2 349.2 1128.3 348.9 1123.6 346.0 1125.9 351.0 1126.4 349.9 1126.7 350.3ZM1127.4 370.3 1127.3 370.0 1128.0 369.9 1125.4 367.4 1126.2 371.0 1126.7 370.3 1126.8 370.6ZM1127.5 390.8 1127.4 390.4 1128.3 390.6 1126.1 386.9 1125.9 391.2 1126.6 390.6 1126.7 391.0ZM1127.6 411.2 1127.4 410.8 1128.5 410.9 1125.6 406.9 1125.8 411.8 1126.5 411.1 1126.7 411.5ZM1127.6 431.6 1127.2 430.6 1128.4 430.7 1124.7 426.3 1125.4 432.0 1126.2 431.1 1126.6 432.0ZM1127.6 452.0 1125.8 448.7 1127.0 448.7 1122.9 444.7 1124.2 450.3 1124.8 449.3 1126.7 452.5ZM1127.6 472.4 1125.2 469.6 1126.4 469.3 1121.6 466.1 1123.9 471.4 1124.4 470.3 1126.7 473.1ZM1127.4 492.7 1126.0 491.8 1127.1 491.2 1121.6 489.5 1125.3 493.9 1125.4 492.7 1126.8 493.7ZM1127.5 513.2 1126.0 512.1 1127.1 511.6 1121.6 509.7 1125.1 514.2 1125.3 513.0 1126.8 514.1ZM1127.4 533.7 1127.0 533.4 1128.0 532.9 1123.1 531.1 1126.2 535.3 1126.4 534.2 1126.8 534.5ZM1127.6 554.7 1127.7 554.2 1128.5 554.9 1128.1 550.1 1125.8 554.3 1126.8 554.0 1126.7 554.5ZM1127.4 575.5 1133.1 572.7 1133.1 573.9 1137.3 570.0 1131.7 571.0 1132.6 571.7 1126.9 574.5ZM1127.3 596.0 1135.6 593.5 1135.4 594.7 1140.1 591.5 1134.4 591.5 1135.2 592.4 1127.0 595.0ZM1127.3 616.5 1134.9 613.9 1134.8 615.1 1139.4 611.8 1133.7 612.0 1134.6 612.8 1127.0 615.4ZM1127.3 636.9 1134.9 634.3 1134.8 635.6 1139.4 632.2 1133.7 632.4 1134.6 633.3 1127.0 635.9ZM1147.5 185.8 1141.8 187.1 1142.1 185.9 1137.1 188.8 1142.8 189.1 1142.0 188.2 1147.7 186.8ZM1147.5 206.2 1134.9 207.8 1135.3 206.6 1130.1 209.0 1135.8 209.9 1135.1 208.9 1147.7 207.3ZM1147.5 226.7 1135.0 227.6 1135.5 226.5 1130.1 228.5 1135.7 229.8 1135.1 228.7 1147.6 227.8ZM1147.6 247.1 1136.0 247.6 1136.5 246.5 1131.1 248.4 1136.7 249.8 1136.1 248.7 1147.6 248.2ZM1147.6 267.6 1141.1 266.9 1141.7 265.9 1136.1 266.9 1141.4 269.2 1141.0 268.0 1147.5 268.7ZM1147.7 288.1 1143.9 287.2 1144.7 286.2 1139.0 286.6 1144.0 289.5 1143.7 288.3 1147.5 289.1ZM1147.8 308.5 1143.8 307.0 1144.7 306.1 1139.0 305.7 1143.5 309.2 1143.4 308.0 1147.4 309.6ZM1147.9 329.0 1147.1 328.6 1148.2 327.9 1142.6 326.5 1146.5 330.8 1146.6 329.5 1147.3 330.0ZM1147.9 349.7 1147.6 349.4 1148.5 349.2 1145.1 347.0 1146.7 350.7 1147.0 349.9 1147.3 350.2ZM1147.8 370.3 1147.7 370.1 1148.2 370.1 1146.6 368.4 1147.0 370.7 1147.3 370.3 1147.4 370.5ZM1147.9 390.8 1147.8 390.5 1148.5 390.6 1146.6 387.9 1146.7 391.2 1147.2 390.7 1147.3 391.0ZM1148.1 411.1 1147.7 410.2 1148.9 410.2 1145.2 405.9 1145.9 411.6 1146.7 410.6 1147.1 411.6ZM1148.1 431.5 1147.3 430.2 1148.5 430.1 1144.2 426.3 1145.7 431.9 1146.3 430.8 1147.1 432.1ZM1148.0 451.9 1145.5 449.0 1146.7 448.7 1141.8 445.7 1144.2 450.9 1144.6 449.8 1147.2 452.6ZM1148.0 472.4 1145.5 469.5 1146.7 469.2 1141.8 466.1 1144.2 471.4 1144.6 470.2 1147.2 473.1ZM1147.9 492.8 1145.9 491.0 1147.0 490.5 1141.8 488.2 1144.9 493.0 1145.2 491.8 1147.2 493.6ZM1147.9 513.2 1145.9 511.5 1147.0 511.0 1141.8 508.7 1144.9 513.5 1145.2 512.3 1147.2 514.1ZM1148.0 533.8 1146.8 532.4 1148.0 532.1 1143.1 529.1 1145.5 534.3 1146.0 533.2 1147.2 534.5ZM1148.1 554.6 1148.1 553.2 1149.2 553.8 1147.6 548.3 1145.9 553.8 1147.0 553.2 1147.0 554.6ZM1147.9 575.5 1152.3 573.0 1152.3 574.2 1156.3 570.0 1150.7 571.3 1151.7 572.0 1147.3 574.6ZM1147.7 596.0 1157.6 593.8 1157.3 594.9 1162.3 592.1 1156.6 591.7 1157.3 592.7 1147.5 595.0ZM1147.7 616.5 1156.8 614.6 1156.4 615.8 1161.5 613.1 1155.8 612.6 1156.5 613.5 1147.5 615.4ZM1147.7 637.0 1155.6 634.8 1155.3 636.0 1160.2 633.0 1154.5 632.9 1155.3 633.8 1147.4 635.9Z"/><path d="M857.0 336.0L868.0 347.0M857.0 347.0L868.0 336.0M852.0 346.5L863.0 357.5M852.0 357.5L863.0 346.5M880.5 336.0L891.5 347.0M880.5 347.0L891.5 336.0M895.0 320.0L906.0 331.0M895.0 331.0L906.0 320.0M924.5 323.0L935.5 334.0M924.5 334.0L935.5 323.0M926.5 310.0L937.5 321.0M926.5 321.0L937.5 310.0M941.5 313.5L952.5 324.5M941.5 324.5L952.5 313.5M953.0 309.0L964.0 320.0M953.0 320.0L964.0 309.0M962.5 296.5L973.5 307.5M962.5 307.5L973.5 296.5M982.0 304.5L993.0 315.5M982.0 315.5L993.0 304.5M999.0 292.0L1010.0 303.0M999.0 303.0L1010.0 292.0M917.0 347.5L928.0 358.5M917.0 358.5L928.0 347.5" stroke="#ff0000" stroke-width="3.1" fill="none"/><circle cx="843.7" cy="355" r="5" fill="#3a6ad8" fill-opacity="0.7"/><circle cx="837.5" cy="357.5" r="5" fill="#3ee07a" fill-opacity="0.9"/></g>
<g stroke="#b0b0b0" stroke-opacity="0.3" stroke-width="0.8"><line x1="367.50" y1="96.0" x2="367.50" y2="712.0"/><line x1="465.69" y1="96.0" x2="465.69" y2="712.0"/><line x1="563.88" y1="96.0" x2="563.88" y2="712.0"/><line x1="662.07" y1="96.0" x2="662.07" y2="712.0"/><line x1="760.26" y1="96.0" x2="760.26" y2="712.0"/><line x1="858.45" y1="96.0" x2="858.45" y2="712.0"/><line x1="956.64" y1="96.0" x2="956.64" y2="712.0"/><line x1="1054.83" y1="96.0" x2="1054.83" y2="712.0"/><line x1="1153.02" y1="96.0" x2="1153.02" y2="712.0"/><line x1="350.0" y1="663.00" x2="1187.5" y2="663.00"/><line x1="350.0" y1="564.90" x2="1187.5" y2="564.90"/><line x1="350.0" y1="466.80" x2="1187.5" y2="466.80"/><line x1="350.0" y1="368.70" x2="1187.5" y2="368.70"/><line x1="350.0" y1="270.60" x2="1187.5" y2="270.60"/><line x1="350.0" y1="172.50" x2="1187.5" y2="172.50"/></g>
<path d="M350.5 96.5H1187.5V711.5H350.5Z" fill="none" stroke="#000" stroke-width="1.1"/>
<g stroke="#000" stroke-width="1.1"><line x1="367.50" y1="712.0" x2="367.50" y2="716.9"/><line x1="465.69" y1="712.0" x2="465.69" y2="716.9"/><line x1="563.88" y1="712.0" x2="563.88" y2="716.9"/><line x1="662.07" y1="712.0" x2="662.07" y2="716.9"/><line x1="760.26" y1="712.0" x2="760.26" y2="716.9"/><line x1="858.45" y1="712.0" x2="858.45" y2="716.9"/><line x1="956.64" y1="712.0" x2="956.64" y2="716.9"/><line x1="1054.83" y1="712.0" x2="1054.83" y2="716.9"/><line x1="1153.02" y1="712.0" x2="1153.02" y2="716.9"/><line x1="345.1" y1="663.00" x2="350.0" y2="663.00"/><line x1="345.1" y1="564.90" x2="350.0" y2="564.90"/><line x1="345.1" y1="466.80" x2="350.0" y2="466.80"/><line x1="345.1" y1="368.70" x2="350.0" y2="368.70"/><line x1="345.1" y1="270.60" x2="350.0" y2="270.60"/><line x1="345.1" y1="172.50" x2="350.0" y2="172.50"/></g>
<g font-family="Liberation Sans, sans-serif" font-size="13" fill="#000"><text x="367.50" y="732.5" text-anchor="middle" textLength="20.8" lengthAdjust="spacingAndGlyphs">6.2</text><text x="465.69" y="732.5" text-anchor="middle" textLength="20.8" lengthAdjust="spacingAndGlyphs">6.4</text><text x="563.88" y="732.5" text-anchor="middle" textLength="20.8" lengthAdjust="spacingAndGlyphs">6.6</text><text x="662.07" y="732.5" text-anchor="middle" textLength="20.8" lengthAdjust="spacingAndGlyphs">6.8</text><text x="760.26" y="732.5" text-anchor="middle" textLength="20.8" lengthAdjust="spacingAndGlyphs">7.0</text><text x="858.45" y="732.5" text-anchor="middle" textLength="20.8" lengthAdjust="spacingAndGlyphs">7.2</text><text x="956.64" y="732.5" text-anchor="middle" textLength="20.8" lengthAdjust="spacingAndGlyphs">7.4</text><text x="1054.83" y="732.5" text-anchor="middle" textLength="20.8" lengthAdjust="spacingAndGlyphs">7.6</text><text x="1153.02" y="732.5" text-anchor="middle" textLength="20.8" lengthAdjust="spacingAndGlyphs">7.8</text><text x="340" y="667.70" text-anchor="end" textLength="28.4" lengthAdjust="spacingAndGlyphs">42.8</text><text x="340" y="569.60" text-anchor="end" textLength="28.4" lengthAdjust="spacingAndGlyphs">43.0</text><text x="340" y="471.50" text-anchor="end" textLength="28.4" lengthAdjust="spacingAndGlyphs">43.2</text><text x="340" y="373.40" text-anchor="end" textLength="28.4" lengthAdjust="spacingAndGlyphs">43.4</text><text x="340" y="275.30" text-anchor="end" textLength="28.4" lengthAdjust="spacingAndGlyphs">43.6</text><text x="340" y="177.20" text-anchor="end" textLength="28.4" lengthAdjust="spacingAndGlyphs">43.8</text></g>
<text x="768.9" y="67.7" text-anchor="middle" font-family="Liberation Sans, sans-serif" font-size="17.6" textLength="174.3" lengthAdjust="spacingAndGlyphs">2023-09-30 02:50:00</text>
</svg></body></html>
